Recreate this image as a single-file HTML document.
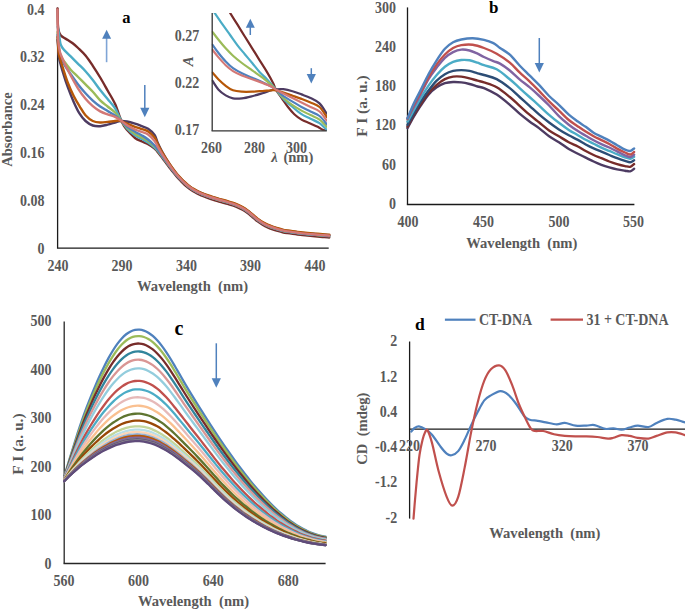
<!DOCTYPE html>
<html><head><meta charset="utf-8"><style>
html,body{margin:0;padding:0;background:#fff;overflow:hidden;width:685px;height:611px;}
svg{display:block;}
text{font-family:"Liberation Serif",serif;font-weight:bold;white-space:pre;}
</style></head><body>
<svg width="685" height="611" viewBox="0 0 685 611">
<rect width="685" height="611" fill="#fff"/>
<line x1="57.6" y1="7.8" x2="57.6" y2="248.1" stroke="#1a1a1a" stroke-width="1.3"/>
<line x1="56.95" y1="248.1" x2="328.7" y2="248.1" stroke="#1a1a1a" stroke-width="1.3"/>
<path d="M57.50,8.50 C57.57,11.25 57.67,21.17 57.90,25.00 C58.13,28.83 58.40,29.75 58.90,31.50 C59.40,33.25 59.92,34.37 60.90,35.50 C61.88,36.63 63.65,37.55 64.80,38.30 C65.95,39.05 66.48,39.17 67.80,40.00 C69.12,40.83 70.98,41.97 72.70,43.30 C74.42,44.63 75.97,45.97 78.10,48.00 C80.23,50.03 83.05,52.53 85.50,55.50 C87.95,58.47 90.35,62.13 92.80,65.80 C95.25,69.47 97.73,73.38 100.20,77.50 C102.67,81.62 105.13,86.12 107.60,90.50 C110.07,94.88 112.90,99.22 115.00,103.80 C117.10,108.38 118.70,114.30 120.20,118.00 C121.70,121.70 122.80,123.95 124.00,126.00 C125.20,128.05 125.57,128.30 127.40,130.30 C129.23,132.30 132.57,136.13 135.00,138.00 C137.43,139.87 139.82,140.47 142.00,141.50 C144.18,142.53 146.00,143.03 148.10,144.20 C150.20,145.37 153.02,147.20 154.60,148.50 C156.18,149.80 156.60,150.77 157.60,151.98 C158.60,153.18 159.60,154.46 160.60,155.74 C161.60,157.03 162.60,158.37 163.60,159.70 C164.60,161.03 165.60,162.38 166.60,163.72 C167.60,165.05 168.60,166.39 169.60,167.71 C170.60,169.02 171.60,170.34 172.60,171.60 C173.60,172.86 174.60,174.10 175.60,175.29 C176.60,176.48 177.60,177.65 178.60,178.75 C179.60,179.85 180.60,180.90 181.60,181.91 C182.60,182.91 183.60,183.87 184.60,184.78 C185.60,185.69 186.60,186.55 187.60,187.36 C188.60,188.17 189.60,188.94 190.60,189.64 C191.60,190.34 192.60,190.96 193.60,191.55 C194.60,192.15 195.60,192.70 196.60,193.22 C197.60,193.74 198.60,194.22 199.60,194.68 C200.60,195.14 201.27,195.44 202.60,195.97 C203.93,196.50 205.93,197.27 207.60,197.87 C209.27,198.46 210.93,199.03 212.60,199.56 C214.27,200.09 215.93,200.58 217.60,201.06 C219.27,201.55 220.93,202.00 222.60,202.47 C224.27,202.94 225.93,203.38 227.60,203.87 C229.27,204.37 230.93,204.87 232.60,205.45 C234.27,206.02 235.93,206.61 237.60,207.33 C239.27,208.05 240.93,208.82 242.60,209.78 C244.27,210.74 245.93,211.83 247.60,213.07 C249.27,214.30 250.93,215.82 252.60,217.20 C254.27,218.58 255.93,220.09 257.60,221.34 C259.27,222.60 260.93,223.72 262.60,224.72 C264.27,225.71 265.93,226.57 267.60,227.32 C269.27,228.08 270.93,228.67 272.60,229.25 C274.27,229.84 275.93,230.36 277.60,230.86 C279.27,231.36 280.93,231.86 282.60,232.25 C284.27,232.63 285.93,232.90 287.60,233.18 C289.27,233.46 290.93,233.70 292.60,233.93 C294.27,234.16 295.93,234.38 297.60,234.58 C299.27,234.78 300.93,234.97 302.60,235.15 C304.27,235.33 305.93,235.50 307.60,235.65 C309.27,235.81 310.93,235.94 312.60,236.09 C314.27,236.23 315.93,236.37 317.60,236.51 C319.27,236.66 320.93,236.79 322.60,236.94 C324.27,237.08 326.48,237.26 327.60,237.36 C328.72,237.45 329.02,237.48 329.30,237.50" fill="none" stroke="#772C2A" stroke-width="2.4" stroke-linejoin="round" stroke-linecap="round" />
<path d="M57.70,27.00 C57.85,27.75 58.32,29.83 58.60,31.50 C58.88,33.17 59.10,35.00 59.40,37.00 C59.70,39.00 59.93,41.75 60.40,43.50 C60.87,45.25 61.47,46.32 62.20,47.50 C62.93,48.68 63.38,49.12 64.80,50.60 C66.22,52.08 68.48,54.20 70.70,56.40 C72.92,58.60 75.63,61.33 78.10,63.80 C80.57,66.27 83.05,68.50 85.50,71.20 C87.95,73.90 90.35,76.85 92.80,80.00 C95.25,83.15 97.73,86.93 100.20,90.10 C102.67,93.27 105.13,95.98 107.60,99.00 C110.07,102.02 112.90,104.95 115.00,108.20 C117.10,111.45 118.20,115.12 120.20,118.50 C122.20,121.88 124.53,125.70 127.00,128.50 C129.47,131.30 132.50,133.55 135.00,135.30 C137.50,137.05 139.82,137.80 142.00,139.00 C144.18,140.20 146.00,141.08 148.10,142.50 C150.20,143.92 153.02,146.11 154.60,147.50 C156.18,148.89 156.60,149.67 157.60,150.84 C158.60,152.01 159.60,153.25 160.60,154.51 C161.60,155.77 162.60,157.10 163.60,158.41 C164.60,159.73 165.60,161.06 166.60,162.39 C167.60,163.71 168.60,165.05 169.60,166.36 C170.60,167.66 171.60,168.97 172.60,170.23 C173.60,171.49 174.60,172.72 175.60,173.91 C176.60,175.10 177.60,176.26 178.60,177.36 C179.60,178.46 180.60,179.51 181.60,180.52 C182.60,181.52 183.60,182.48 184.60,183.39 C185.60,184.29 186.60,185.15 187.60,185.96 C188.60,186.77 189.60,187.54 190.60,188.24 C191.60,188.94 192.60,189.56 193.60,190.15 C194.60,190.75 195.60,191.30 196.60,191.82 C197.60,192.34 198.60,192.83 199.60,193.28 C200.60,193.74 201.27,194.04 202.60,194.57 C203.93,195.10 205.93,195.87 207.60,196.47 C209.27,197.06 210.93,197.63 212.60,198.16 C214.27,198.69 215.93,199.18 217.60,199.66 C219.27,200.15 220.93,200.60 222.60,201.07 C224.27,201.54 225.93,201.98 227.60,202.47 C229.27,202.97 230.93,203.47 232.60,204.05 C234.27,204.62 235.93,205.21 237.60,205.93 C239.27,206.65 240.93,207.42 242.60,208.38 C244.27,209.34 245.93,210.43 247.60,211.67 C249.27,212.90 250.93,214.42 252.60,215.80 C254.27,217.18 255.93,218.69 257.60,219.94 C259.27,221.20 260.93,222.32 262.60,223.32 C264.27,224.31 265.93,225.17 267.60,225.92 C269.27,226.68 270.93,227.27 272.60,227.85 C274.27,228.44 275.93,228.96 277.60,229.46 C279.27,229.96 280.93,230.46 282.60,230.85 C284.27,231.23 285.93,231.50 287.60,231.78 C289.27,232.06 290.93,232.30 292.60,232.53 C294.27,232.76 295.93,232.98 297.60,233.18 C299.27,233.38 300.93,233.57 302.60,233.75 C304.27,233.93 305.93,234.10 307.60,234.25 C309.27,234.41 310.93,234.54 312.60,234.69 C314.27,234.83 315.93,234.97 317.60,235.11 C319.27,235.26 320.93,235.39 322.60,235.54 C324.27,235.68 326.48,235.86 327.60,235.96 C328.72,236.05 329.02,236.08 329.30,236.10" fill="none" stroke="#4BACC6" stroke-width="2.4" stroke-linejoin="round" stroke-linecap="round" />
<path d="M57.60,32.00 C57.73,34.00 57.93,40.17 58.40,44.00 C58.87,47.83 59.33,51.95 60.40,55.00 C61.47,58.05 63.08,59.85 64.80,62.30 C66.52,64.75 68.48,67.25 70.70,69.70 C72.92,72.15 75.63,74.55 78.10,77.00 C80.57,79.45 83.05,81.93 85.50,84.40 C87.95,86.87 90.35,89.13 92.80,91.80 C95.25,94.47 97.73,97.95 100.20,100.40 C102.67,102.85 105.13,104.48 107.60,106.50 C110.07,108.52 112.90,110.33 115.00,112.50 C117.10,114.67 118.20,117.00 120.20,119.50 C122.20,122.00 124.53,125.13 127.00,127.50 C129.47,129.87 132.50,132.03 135.00,133.70 C137.50,135.37 139.82,136.28 142.00,137.50 C144.18,138.72 146.00,139.50 148.10,141.00 C150.20,142.50 153.02,144.97 154.60,146.50 C156.18,148.03 156.60,148.90 157.60,150.15 C158.60,151.41 159.60,152.71 160.60,154.03 C161.60,155.35 162.60,156.71 163.60,158.06 C164.60,159.41 165.60,160.78 166.60,162.13 C167.60,163.47 168.60,164.83 169.60,166.15 C170.60,167.47 171.60,168.79 172.60,170.06 C173.60,171.33 174.60,172.57 175.60,173.76 C176.60,174.96 177.60,176.13 178.60,177.23 C179.60,178.34 180.60,179.39 181.60,180.40 C182.60,181.40 183.60,182.36 184.60,183.27 C185.60,184.18 186.60,185.04 187.60,185.85 C188.60,186.66 189.60,187.44 190.60,188.14 C191.60,188.84 192.60,189.45 193.60,190.05 C194.60,190.65 195.60,191.19 196.60,191.72 C197.60,192.24 198.60,192.72 199.60,193.18 C200.60,193.64 201.27,193.94 202.60,194.47 C203.93,195.00 205.93,195.77 207.60,196.37 C209.27,196.96 210.93,197.53 212.60,198.06 C214.27,198.59 215.93,199.08 217.60,199.56 C219.27,200.05 220.93,200.50 222.60,200.97 C224.27,201.44 225.93,201.88 227.60,202.37 C229.27,202.87 230.93,203.37 232.60,203.95 C234.27,204.52 235.93,205.11 237.60,205.83 C239.27,206.55 240.93,207.32 242.60,208.28 C244.27,209.24 245.93,210.33 247.60,211.57 C249.27,212.80 250.93,214.32 252.60,215.70 C254.27,217.08 255.93,218.59 257.60,219.84 C259.27,221.10 260.93,222.22 262.60,223.22 C264.27,224.21 265.93,225.07 267.60,225.82 C269.27,226.58 270.93,227.17 272.60,227.75 C274.27,228.34 275.93,228.86 277.60,229.36 C279.27,229.86 280.93,230.36 282.60,230.75 C284.27,231.13 285.93,231.40 287.60,231.68 C289.27,231.96 290.93,232.20 292.60,232.43 C294.27,232.66 295.93,232.88 297.60,233.08 C299.27,233.28 300.93,233.47 302.60,233.65 C304.27,233.83 305.93,234.00 307.60,234.15 C309.27,234.31 310.93,234.44 312.60,234.59 C314.27,234.73 315.93,234.87 317.60,235.01 C319.27,235.16 320.93,235.29 322.60,235.44 C324.27,235.58 326.48,235.76 327.60,235.86 C328.72,235.95 329.02,235.98 329.30,236.00" fill="none" stroke="#9BBB59" stroke-width="2.4" stroke-linejoin="round" stroke-linecap="round" />
<path d="M57.60,35.00 C57.75,37.00 58.03,43.42 58.50,47.00 C58.97,50.58 59.35,53.45 60.40,56.50 C61.45,59.55 63.08,62.35 64.80,65.30 C66.52,68.25 68.48,71.00 70.70,74.20 C72.92,77.40 75.63,81.32 78.10,84.50 C80.57,87.68 83.05,90.62 85.50,93.30 C87.95,95.98 90.35,98.40 92.80,100.60 C95.25,102.80 97.73,104.77 100.20,106.50 C102.67,108.23 105.13,109.50 107.60,111.00 C110.07,112.50 112.90,114.03 115.00,115.50 C117.10,116.97 118.20,117.97 120.20,119.80 C122.20,121.63 124.53,124.52 127.00,126.50 C129.47,128.48 132.50,130.20 135.00,131.70 C137.50,133.20 139.82,134.20 142.00,135.50 C144.18,136.80 146.00,137.83 148.10,139.50 C150.20,141.17 153.02,143.84 154.60,145.50 C156.18,147.16 156.60,148.12 157.60,149.47 C158.60,150.81 159.60,152.17 160.60,153.55 C161.60,154.92 162.60,156.33 163.60,157.72 C164.60,159.10 165.60,160.49 166.60,161.86 C167.60,163.24 168.60,164.61 169.60,165.94 C170.60,167.28 171.60,168.61 172.60,169.89 C173.60,171.17 174.60,172.42 175.60,173.62 C176.60,174.82 177.60,175.99 178.60,177.10 C179.60,178.21 180.60,179.27 181.60,180.28 C182.60,181.29 183.60,182.25 184.60,183.16 C185.60,184.07 186.60,184.93 187.60,185.74 C188.60,186.55 189.60,187.33 190.60,188.03 C191.60,188.73 192.60,189.35 193.60,189.95 C194.60,190.54 195.60,191.09 196.60,191.61 C197.60,192.14 198.60,192.62 199.60,193.08 C200.60,193.54 201.27,193.84 202.60,194.37 C203.93,194.90 205.93,195.67 207.60,196.27 C209.27,196.86 210.93,197.43 212.60,197.96 C214.27,198.49 215.93,198.98 217.60,199.46 C219.27,199.95 220.93,200.40 222.60,200.87 C224.27,201.34 225.93,201.78 227.60,202.27 C229.27,202.77 230.93,203.27 232.60,203.85 C234.27,204.42 235.93,205.01 237.60,205.73 C239.27,206.45 240.93,207.22 242.60,208.18 C244.27,209.14 245.93,210.23 247.60,211.47 C249.27,212.70 250.93,214.22 252.60,215.60 C254.27,216.98 255.93,218.49 257.60,219.74 C259.27,221.00 260.93,222.12 262.60,223.12 C264.27,224.11 265.93,224.97 267.60,225.72 C269.27,226.48 270.93,227.07 272.60,227.65 C274.27,228.24 275.93,228.76 277.60,229.26 C279.27,229.76 280.93,230.26 282.60,230.65 C284.27,231.03 285.93,231.30 287.60,231.58 C289.27,231.86 290.93,232.10 292.60,232.33 C294.27,232.56 295.93,232.78 297.60,232.98 C299.27,233.18 300.93,233.37 302.60,233.55 C304.27,233.73 305.93,233.90 307.60,234.05 C309.27,234.21 310.93,234.34 312.60,234.49 C314.27,234.63 315.93,234.77 317.60,234.91 C319.27,235.06 320.93,235.19 322.60,235.34 C324.27,235.48 326.48,235.66 327.60,235.76 C328.72,235.85 329.02,235.88 329.30,235.90" fill="none" stroke="#4F81BD" stroke-width="2.4" stroke-linejoin="round" stroke-linecap="round" />
<path d="M57.60,40.00 C57.70,41.33 57.97,45.05 58.20,48.00 C58.43,50.95 58.13,53.38 59.00,57.70 C59.87,62.02 61.93,68.98 63.40,73.90 C64.87,78.82 66.08,82.53 67.80,87.20 C69.52,91.87 71.73,97.48 73.70,101.90 C75.67,106.32 77.63,110.52 79.60,113.70 C81.57,116.88 83.30,119.03 85.50,121.00 C87.70,122.97 90.35,124.63 92.80,125.50 C95.25,126.37 97.73,126.33 100.20,126.20 C102.67,126.07 105.13,125.32 107.60,124.70 C110.07,124.08 112.90,123.12 115.00,122.50 C117.10,121.88 118.20,121.17 120.20,121.00 C122.20,120.83 124.53,121.07 127.00,121.50 C129.47,121.93 132.67,122.88 135.00,123.60 C137.33,124.32 138.82,124.93 141.00,125.80 C143.18,126.67 145.83,127.27 148.10,128.80 C150.37,130.33 153.02,132.74 154.60,135.00 C156.18,137.26 156.60,140.10 157.60,142.38 C158.60,144.66 159.60,146.70 160.60,148.69 C161.60,150.68 162.60,152.52 163.60,154.31 C164.60,156.09 165.60,157.77 166.60,159.40 C167.60,161.03 168.60,162.59 169.60,164.09 C170.60,165.60 171.60,167.05 172.60,168.44 C173.60,169.83 174.60,171.16 175.60,172.43 C176.60,173.70 177.60,174.93 178.60,176.09 C179.60,177.24 180.60,178.33 181.60,179.37 C182.60,180.41 183.60,181.40 184.60,182.33 C185.60,183.26 186.60,184.13 187.60,184.95 C188.60,185.78 189.60,186.57 190.60,187.28 C191.60,187.98 192.60,188.61 193.60,189.21 C194.60,189.81 195.60,190.36 196.60,190.89 C197.60,191.42 198.60,191.90 199.60,192.37 C200.60,192.83 201.27,193.12 202.60,193.66 C203.93,194.19 205.93,194.96 207.60,195.56 C209.27,196.16 210.93,196.72 212.60,197.26 C214.27,197.79 215.93,198.27 217.60,198.76 C219.27,199.25 220.93,199.70 222.60,200.17 C224.27,200.64 225.93,201.08 227.60,201.57 C229.27,202.07 230.93,202.57 232.60,203.15 C234.27,203.72 235.93,204.31 237.60,205.03 C239.27,205.75 240.93,206.52 242.60,207.48 C244.27,208.44 245.93,209.53 247.60,210.77 C249.27,212.00 250.93,213.52 252.60,214.90 C254.27,216.28 255.93,217.79 257.60,219.04 C259.27,220.30 260.93,221.42 262.60,222.42 C264.27,223.41 265.93,224.27 267.60,225.02 C269.27,225.78 270.93,226.37 272.60,226.95 C274.27,227.54 275.93,228.06 277.60,228.56 C279.27,229.06 280.93,229.56 282.60,229.95 C284.27,230.33 285.93,230.60 287.60,230.88 C289.27,231.16 290.93,231.40 292.60,231.63 C294.27,231.86 295.93,232.08 297.60,232.28 C299.27,232.48 300.93,232.67 302.60,232.85 C304.27,233.03 305.93,233.20 307.60,233.35 C309.27,233.51 310.93,233.64 312.60,233.79 C314.27,233.93 315.93,234.07 317.60,234.21 C319.27,234.36 320.93,234.49 322.60,234.64 C324.27,234.78 326.48,234.96 327.60,235.06 C328.72,235.15 329.02,235.18 329.30,235.20" fill="none" stroke="#4D3B62" stroke-width="2.4" stroke-linejoin="round" stroke-linecap="round" />
<path d="M57.60,37.00 C57.70,38.50 57.97,43.05 58.20,46.00 C58.43,48.95 58.13,50.78 59.00,54.70 C59.87,58.62 61.93,64.83 63.40,69.50 C64.87,74.17 66.08,78.28 67.80,82.70 C69.52,87.12 71.73,92.07 73.70,96.00 C75.67,99.93 77.63,103.10 79.60,106.30 C81.57,109.50 83.30,112.75 85.50,115.20 C87.70,117.65 90.35,119.78 92.80,121.00 C95.25,122.22 97.73,122.35 100.20,122.50 C102.67,122.65 105.13,122.15 107.60,121.90 C110.07,121.65 112.90,121.18 115.00,121.00 C117.10,120.82 118.20,120.38 120.20,120.80 C122.20,121.22 124.53,122.50 127.00,123.50 C129.47,124.50 132.67,125.92 135.00,126.80 C137.33,127.68 138.82,128.02 141.00,128.80 C143.18,129.58 145.83,130.05 148.10,131.50 C150.37,132.95 153.02,135.44 154.60,137.50 C156.18,139.56 156.60,141.87 157.60,143.87 C158.60,145.87 159.60,147.71 160.60,149.52 C161.60,151.33 162.60,153.04 163.60,154.71 C164.60,156.37 165.60,157.97 166.60,159.52 C167.60,161.08 168.60,162.58 169.60,164.03 C170.60,165.49 171.60,166.91 172.60,168.26 C173.60,169.62 174.60,170.92 175.60,172.17 C176.60,173.43 177.60,174.64 178.60,175.78 C179.60,176.92 180.60,178.00 181.60,179.03 C182.60,180.06 183.60,181.04 184.60,181.97 C185.60,182.89 186.60,183.76 187.60,184.58 C188.60,185.40 189.60,186.19 190.60,186.89 C191.60,187.60 192.60,188.22 193.60,188.82 C194.60,189.42 195.60,189.97 196.60,190.50 C197.60,191.02 198.60,191.51 199.60,191.97 C200.60,192.43 201.27,192.73 202.60,193.26 C203.93,193.79 205.93,194.56 207.60,195.16 C209.27,195.76 210.93,196.32 212.60,196.86 C214.27,197.39 215.93,197.87 217.60,198.36 C219.27,198.85 220.93,199.30 222.60,199.77 C224.27,200.24 225.93,200.68 227.60,201.17 C229.27,201.67 230.93,202.17 232.60,202.75 C234.27,203.32 235.93,203.91 237.60,204.63 C239.27,205.35 240.93,206.12 242.60,207.08 C244.27,208.04 245.93,209.13 247.60,210.37 C249.27,211.60 250.93,213.12 252.60,214.50 C254.27,215.88 255.93,217.39 257.60,218.64 C259.27,219.90 260.93,221.02 262.60,222.02 C264.27,223.01 265.93,223.87 267.60,224.62 C269.27,225.38 270.93,225.97 272.60,226.55 C274.27,227.14 275.93,227.66 277.60,228.16 C279.27,228.66 280.93,229.16 282.60,229.55 C284.27,229.93 285.93,230.20 287.60,230.48 C289.27,230.76 290.93,231.00 292.60,231.23 C294.27,231.46 295.93,231.68 297.60,231.88 C299.27,232.08 300.93,232.27 302.60,232.45 C304.27,232.63 305.93,232.80 307.60,232.95 C309.27,233.11 310.93,233.24 312.60,233.39 C314.27,233.53 315.93,233.67 317.60,233.81 C319.27,233.96 320.93,234.09 322.60,234.24 C324.27,234.38 326.48,234.56 327.60,234.66 C328.72,234.75 329.02,234.78 329.30,234.80" fill="none" stroke="#B65708" stroke-width="2.4" stroke-linejoin="round" stroke-linecap="round" />
<path d="M57.50,9.50 C57.53,12.08 57.58,19.92 57.70,25.00 C57.82,30.08 57.95,36.17 58.20,40.00 C58.45,43.83 58.83,45.75 59.20,48.00 C59.57,50.25 59.47,50.87 60.40,53.50 C61.33,56.13 63.08,60.13 64.80,63.80 C66.52,67.47 68.48,71.37 70.70,75.50 C72.92,79.63 75.63,84.72 78.10,88.60 C80.57,92.48 83.05,95.87 85.50,98.80 C87.95,101.73 90.35,104.10 92.80,106.20 C95.25,108.30 97.73,110.03 100.20,111.40 C102.67,112.77 105.13,113.50 107.60,114.40 C110.07,115.30 112.90,115.87 115.00,116.80 C117.10,117.73 118.20,118.60 120.20,120.00 C122.20,121.40 124.53,123.62 127.00,125.20 C129.47,126.78 132.50,128.37 135.00,129.50 C137.50,130.63 139.82,131.17 142.00,132.00 C144.18,132.83 146.00,133.00 148.10,134.50 C150.20,136.00 153.02,139.01 154.60,141.00 C156.18,142.99 156.60,144.71 157.60,146.46 C158.60,148.22 159.60,149.88 160.60,151.52 C161.60,153.17 162.60,154.77 163.60,156.33 C164.60,157.89 165.60,159.40 166.60,160.89 C167.60,162.37 168.60,163.83 169.60,165.24 C170.60,166.65 171.60,168.04 172.60,169.36 C173.60,170.69 174.60,171.97 175.60,173.20 C176.60,174.44 177.60,175.63 178.60,176.76 C179.60,177.89 180.60,178.96 181.60,179.99 C182.60,181.01 183.60,181.98 184.60,182.90 C185.60,183.82 186.60,184.69 187.60,185.50 C188.60,186.32 189.60,187.10 190.60,187.81 C191.60,188.51 192.60,189.13 193.60,189.73 C194.60,190.33 195.60,190.88 196.60,191.40 C197.60,191.93 198.60,192.41 199.60,192.87 C200.60,193.33 201.27,193.63 202.60,194.16 C203.93,194.69 205.93,195.46 207.60,196.06 C209.27,196.66 210.93,197.22 212.60,197.76 C214.27,198.29 215.93,198.77 217.60,199.26 C219.27,199.75 220.93,200.20 222.60,200.67 C224.27,201.14 225.93,201.58 227.60,202.07 C229.27,202.57 230.93,203.07 232.60,203.65 C234.27,204.22 235.93,204.81 237.60,205.53 C239.27,206.25 240.93,207.02 242.60,207.98 C244.27,208.94 245.93,210.03 247.60,211.27 C249.27,212.50 250.93,214.02 252.60,215.40 C254.27,216.78 255.93,218.29 257.60,219.54 C259.27,220.80 260.93,221.92 262.60,222.92 C264.27,223.91 265.93,224.77 267.60,225.52 C269.27,226.28 270.93,226.87 272.60,227.45 C274.27,228.04 275.93,228.56 277.60,229.06 C279.27,229.56 280.93,230.06 282.60,230.45 C284.27,230.83 285.93,231.10 287.60,231.38 C289.27,231.66 290.93,231.90 292.60,232.13 C294.27,232.36 295.93,232.58 297.60,232.78 C299.27,232.98 300.93,233.17 302.60,233.35 C304.27,233.53 305.93,233.70 307.60,233.85 C309.27,234.01 310.93,234.14 312.60,234.29 C314.27,234.43 315.93,234.57 317.60,234.71 C319.27,234.86 320.93,234.99 322.60,235.14 C324.27,235.28 326.48,235.46 327.60,235.56 C328.72,235.65 329.02,235.68 329.30,235.70" fill="none" stroke="#D37876" stroke-width="2.4" stroke-linejoin="round" stroke-linecap="round" />
<text transform="translate(44.60,14.68) scale(1,1.2)" font-size="14.0" text-anchor="end" fill="#595959">0.4</text>
<text transform="translate(44.60,62.48) scale(1,1.2)" font-size="14.0" text-anchor="end" fill="#595959">0.32</text>
<text transform="translate(44.60,110.28) scale(1,1.2)" font-size="14.0" text-anchor="end" fill="#595959">0.24</text>
<text transform="translate(44.60,158.08) scale(1,1.2)" font-size="14.0" text-anchor="end" fill="#595959">0.16</text>
<text transform="translate(44.60,205.88) scale(1,1.2)" font-size="14.0" text-anchor="end" fill="#595959">0.08</text>
<text transform="translate(44.60,253.68) scale(1,1.2)" font-size="14.0" text-anchor="end" fill="#595959">0</text>
<text transform="translate(58.00,271.38) scale(1,1.2)" font-size="14.0" text-anchor="middle" fill="#595959">240</text>
<text transform="translate(122.00,271.38) scale(1,1.2)" font-size="14.0" text-anchor="middle" fill="#595959">290</text>
<text transform="translate(186.50,271.38) scale(1,1.2)" font-size="14.0" text-anchor="middle" fill="#595959">340</text>
<text transform="translate(250.50,271.38) scale(1,1.2)" font-size="14.0" text-anchor="middle" fill="#595959">390</text>
<text transform="translate(315.00,271.38) scale(1,1.2)" font-size="14.0" text-anchor="middle" fill="#595959">440</text>
<text x="192.6" y="290.5" font-size="14.6" text-anchor="middle" fill="#595959" xml:space="preserve">Wavelength  (nm)</text>
<text x="12.2" y="129.5" font-size="14.6" text-anchor="middle" fill="#595959" transform="rotate(-90 12.2 129.5)" dy="0">Absorbance</text>
<text x="122.2" y="23.4" font-size="16.5" text-anchor="start" fill="#000" >a</text>
<line x1="106.6" y1="37.8" x2="106.6" y2="62.2" stroke="#7FA5D6" stroke-width="1.6"/>
<path d="M102.1,38.8 L106.6,29.8 L111.1,38.8 Z" fill="#4F81BD"/>
<line x1="144.8" y1="85" x2="144.8" y2="108.8" stroke="#4F81BD" stroke-width="1.5"/>
<path d="M140.20000000000002,107.8 L144.8,117.3 L149.4,107.8 Z" fill="#4F81BD"/>
<defs><clipPath id="insclip"><rect x="211.7" y="12.9" width="115.3" height="117.9"/></clipPath></defs>
<g clip-path="url(#insclip)">
<path d="M230.10,12.90 C231.33,14.87 235.05,20.77 237.50,24.70 C239.95,28.63 242.35,32.57 244.80,36.50 C247.25,40.43 249.75,44.37 252.20,48.30 C254.65,52.23 257.05,56.17 259.50,60.10 C261.95,64.03 264.62,68.05 266.90,71.90 C269.18,75.75 271.70,80.25 273.20,83.20 C274.70,86.15 274.48,87.13 275.90,89.60 C277.32,92.07 279.68,95.10 281.70,98.00 C283.72,100.90 285.90,104.30 288.00,107.00 C290.10,109.70 292.05,112.10 294.30,114.20 C296.55,116.30 298.95,118.10 301.50,119.60 C304.05,121.10 306.90,122.00 309.60,123.20 C312.30,124.40 315.60,125.73 317.70,126.80 C319.80,127.87 320.85,128.97 322.20,129.60 C323.55,130.23 325.20,130.43 325.80,130.60" fill="none" stroke="#772C2A" stroke-width="2.2" stroke-linejoin="round" stroke-linecap="round" />
<path d="M213.20,11.50 C213.43,11.73 213.02,10.70 214.60,12.90 C216.18,15.10 220.12,21.02 222.70,24.70 C225.28,28.38 227.63,31.57 230.10,35.00 C232.57,38.43 235.05,42.10 237.50,45.30 C239.95,48.50 242.35,51.25 244.80,54.20 C247.25,57.15 249.75,60.05 252.20,63.00 C254.65,65.95 257.05,69.20 259.50,71.90 C261.95,74.60 264.62,76.82 266.90,79.20 C269.18,81.58 271.70,84.47 273.20,86.20 C274.70,87.93 274.18,87.48 275.90,89.60 C277.62,91.72 280.73,96.00 283.50,98.90 C286.27,101.80 289.50,104.45 292.50,107.00 C295.50,109.55 298.50,112.25 301.50,114.20 C304.50,116.15 307.50,117.20 310.50,118.70 C313.50,120.20 316.80,121.35 319.50,123.20 C322.20,125.05 325.50,128.70 326.70,129.80" fill="none" stroke="#4BACC6" stroke-width="2.2" stroke-linejoin="round" stroke-linecap="round" />
<path d="M212.40,31.80 C213.38,33.08 216.08,36.75 218.30,39.50 C220.52,42.25 223.25,45.60 225.70,48.30 C228.15,51.00 230.30,53.25 233.00,55.70 C235.70,58.15 238.70,60.55 241.90,63.00 C245.10,65.45 248.77,67.95 252.20,70.40 C255.63,72.85 259.32,75.25 262.50,77.70 C265.68,80.15 269.07,83.12 271.30,85.10 C273.53,87.08 273.87,87.45 275.90,89.60 C277.93,91.75 280.73,95.40 283.50,98.00 C286.27,100.60 289.50,103.10 292.50,105.20 C295.50,107.30 298.50,108.95 301.50,110.60 C304.50,112.25 307.50,113.60 310.50,115.10 C313.50,116.60 316.80,117.65 319.50,119.60 C322.20,121.55 325.50,125.60 326.70,126.80" fill="none" stroke="#9BBB59" stroke-width="2.2" stroke-linejoin="round" stroke-linecap="round" />
<path d="M212.40,44.60 C213.38,45.95 216.08,49.88 218.30,52.70 C220.52,55.52 223.25,58.92 225.70,61.50 C228.15,64.08 230.30,66.23 233.00,68.20 C235.70,70.17 238.70,71.72 241.90,73.30 C245.10,74.88 248.77,76.22 252.20,77.70 C255.63,79.18 259.32,80.72 262.50,82.20 C265.68,83.68 269.07,85.37 271.30,86.60 C273.53,87.83 273.87,88.00 275.90,89.60 C277.93,91.20 280.73,94.20 283.50,96.20 C286.27,98.20 289.50,99.80 292.50,101.60 C295.50,103.40 298.50,105.35 301.50,107.00 C304.50,108.65 307.50,110.00 310.50,111.50 C313.50,113.00 316.80,113.90 319.50,116.00 C322.20,118.10 325.50,122.75 326.70,124.10" fill="none" stroke="#4F81BD" stroke-width="2.2" stroke-linejoin="round" stroke-linecap="round" />
<path d="M212.40,80.70 C213.38,82.17 216.08,87.05 218.30,89.50 C220.52,91.95 223.25,93.92 225.70,95.40 C228.15,96.88 230.30,97.90 233.00,98.40 C235.70,98.90 238.70,98.77 241.90,98.40 C245.10,98.03 248.77,97.07 252.20,96.20 C255.63,95.33 259.32,94.18 262.50,93.20 C265.68,92.22 269.07,90.95 271.30,90.30 C273.53,89.65 273.87,89.48 275.90,89.30 C277.93,89.12 280.73,88.88 283.50,89.20 C286.27,89.52 289.50,90.33 292.50,91.20 C295.50,92.07 298.50,93.27 301.50,94.40 C304.50,95.53 307.50,96.50 310.50,98.00 C313.50,99.50 316.80,100.78 319.50,103.40 C322.20,106.02 325.50,111.98 326.70,113.70" fill="none" stroke="#4D3B62" stroke-width="2.2" stroke-linejoin="round" stroke-linecap="round" />
<path d="M212.40,72.60 C213.38,73.70 216.08,77.00 218.30,79.20 C220.52,81.40 223.25,83.95 225.70,85.80 C228.15,87.65 230.30,89.32 233.00,90.30 C235.70,91.28 238.70,91.47 241.90,91.70 C245.10,91.93 248.77,91.82 252.20,91.70 C255.63,91.58 259.32,91.23 262.50,91.00 C265.68,90.77 269.07,90.42 271.30,90.30 C273.53,90.18 273.87,89.92 275.90,90.30 C277.93,90.68 280.73,91.70 283.50,92.60 C286.27,93.50 289.50,94.65 292.50,95.70 C295.50,96.75 298.50,97.77 301.50,98.90 C304.50,100.03 307.50,101.15 310.50,102.50 C313.50,103.85 316.80,104.60 319.50,107.00 C322.20,109.40 325.50,115.25 326.70,116.90" fill="none" stroke="#B65708" stroke-width="2.2" stroke-linejoin="round" stroke-linecap="round" />
<path d="M212.40,49.80 C213.38,51.02 216.08,54.53 218.30,57.10 C220.52,59.67 223.25,62.87 225.70,65.20 C228.15,67.53 230.30,69.38 233.00,71.10 C235.70,72.82 238.70,74.15 241.90,75.50 C245.10,76.85 248.77,77.97 252.20,79.20 C255.63,80.43 259.32,81.67 262.50,82.90 C265.68,84.13 269.07,85.48 271.30,86.60 C273.53,87.72 273.87,88.45 275.90,89.60 C277.93,90.75 280.73,92.10 283.50,93.50 C286.27,94.90 289.50,96.50 292.50,98.00 C295.50,99.50 298.50,101.00 301.50,102.50 C304.50,104.00 307.50,105.50 310.50,107.00 C313.50,108.50 316.80,109.25 319.50,111.50 C322.20,113.75 325.50,119.00 326.70,120.50" fill="none" stroke="#D37876" stroke-width="2.2" stroke-linejoin="round" stroke-linecap="round" />
</g>
<line x1="212.2" y1="12.9" x2="212.2" y2="130.8" stroke="#333" stroke-width="1.3"/>
<line x1="211.55" y1="130.8" x2="326.8" y2="130.8" stroke="#333" stroke-width="1.3"/>
<text transform="translate(199.30,40.68) scale(1,1.2)" font-size="14.0" text-anchor="end" fill="#595959">0.27</text>
<text transform="translate(199.30,87.98) scale(1,1.2)" font-size="14.0" text-anchor="end" fill="#595959">0.22</text>
<text transform="translate(199.30,135.28) scale(1,1.2)" font-size="14.0" text-anchor="end" fill="#595959">0.17</text>
<text transform="translate(211.60,152.98) scale(1,1.2)" font-size="14.0" text-anchor="middle" fill="#595959">260</text>
<text transform="translate(254.50,152.98) scale(1,1.2)" font-size="14.0" text-anchor="middle" fill="#595959">280</text>
<text transform="translate(296.50,152.98) scale(1,1.2)" font-size="14.0" text-anchor="middle" fill="#595959">300</text>
<text x="193" y="61.2" font-size="15" text-anchor="middle" fill="#595959" font-style="italic" transform="rotate(-90 193 61.2)">A</text>
<text x="271.2" y="161.5" font-size="14.6" text-anchor="start" fill="#595959" font-style="italic">λ</text>
<text x="283.4" y="161.5" font-size="14.6" text-anchor="start" fill="#595959" >(nm)</text>
<line x1="250.3" y1="26.8" x2="250.3" y2="35" stroke="#4F81BD" stroke-width="1.5"/>
<path d="M245.8,27.8 L250.3,18.8 L254.8,27.8 Z" fill="#4F81BD"/>
<line x1="311.3" y1="68.2" x2="311.3" y2="75.0" stroke="#4F81BD" stroke-width="1.5"/>
<path d="M306.7,74.0 L311.3,83.5 L315.90000000000003,74.0 Z" fill="#4F81BD"/>
<line x1="407.5" y1="7.4" x2="407.5" y2="204.5" stroke="#1a1a1a" stroke-width="1.3"/>
<line x1="406.85" y1="204.5" x2="634.4" y2="204.5" stroke="#1a1a1a" stroke-width="1.3"/>
<path d="M407.50,128.20 C408.55,126.28 411.65,120.38 413.80,116.70 C415.95,113.02 417.95,109.78 420.40,106.10 C422.85,102.42 425.78,97.73 428.50,94.60 C431.22,91.47 433.97,89.20 436.70,87.30 C439.43,85.40 442.17,84.08 444.90,83.20 C447.63,82.32 450.37,82.13 453.10,82.00 C455.83,81.87 458.57,82.07 461.30,82.40 C464.03,82.73 466.78,83.32 469.50,84.00 C472.22,84.68 475.18,85.82 477.60,86.50 C480.02,87.18 480.82,86.75 484.00,88.10 C487.18,89.45 492.40,91.82 496.70,94.60 C501.00,97.38 505.98,101.62 509.80,104.80 C513.62,107.98 516.32,110.92 519.60,113.70 C522.88,116.48 526.22,119.05 529.50,121.50 C532.78,123.95 536.03,125.93 539.30,128.40 C542.57,130.87 545.83,134.00 549.10,136.30 C552.37,138.60 555.62,140.08 558.90,142.20 C562.18,144.32 565.63,147.08 568.80,149.00 C571.97,150.92 575.08,152.27 577.90,153.70 C580.72,155.13 583.08,156.30 585.70,157.60 C588.32,158.90 590.98,160.30 593.60,161.50 C596.22,162.70 598.78,163.82 601.40,164.80 C604.02,165.78 606.68,166.63 609.30,167.40 C611.92,168.17 614.48,168.85 617.10,169.40 C619.72,169.95 622.82,170.38 625.00,170.70 C627.18,171.02 628.68,171.63 630.20,171.30 C631.72,170.97 633.45,169.13 634.10,168.70" fill="none" stroke="#4D3B62" stroke-width="2.4" stroke-linejoin="round" stroke-linecap="round" />
<path d="M407.50,126.60 C408.55,124.68 411.65,118.78 413.80,115.10 C415.95,111.42 417.95,108.18 420.40,104.50 C422.85,100.82 425.78,96.28 428.50,93.00 C431.22,89.72 433.97,87.12 436.70,84.80 C439.43,82.48 442.17,80.47 444.90,79.10 C447.63,77.73 450.37,77.02 453.10,76.60 C455.83,76.18 458.57,76.32 461.30,76.60 C464.03,76.88 466.78,77.62 469.50,78.30 C472.22,78.98 475.18,80.02 477.60,80.70 C480.02,81.38 480.82,81.30 484.00,82.40 C487.18,83.50 492.40,84.87 496.70,87.30 C501.00,89.73 505.98,93.92 509.80,97.00 C513.62,100.08 516.32,102.85 519.60,105.80 C522.88,108.75 526.22,111.92 529.50,114.70 C532.78,117.48 536.03,119.88 539.30,122.50 C542.57,125.12 545.83,128.10 549.10,130.40 C552.37,132.70 555.62,134.33 558.90,136.30 C562.18,138.27 565.63,140.50 568.80,142.20 C571.97,143.90 575.08,145.03 577.90,146.50 C580.72,147.97 583.08,149.58 585.70,151.00 C588.32,152.42 590.98,153.80 593.60,155.00 C596.22,156.20 598.78,157.12 601.40,158.20 C604.02,159.28 606.68,160.52 609.30,161.50 C611.92,162.48 614.48,163.33 617.10,164.10 C619.72,164.87 622.82,165.65 625.00,166.10 C627.18,166.55 628.68,167.13 630.20,166.80 C631.72,166.47 633.45,164.55 634.10,164.10" fill="none" stroke="#772C2A" stroke-width="2.4" stroke-linejoin="round" stroke-linecap="round" />
<path d="M407.50,124.90 C408.55,123.00 411.65,117.32 413.80,113.50 C415.95,109.68 417.95,105.82 420.40,102.00 C422.85,98.18 425.78,94.15 428.50,90.60 C431.22,87.05 433.97,83.43 436.70,80.70 C439.43,77.97 442.17,75.83 444.90,74.20 C447.63,72.57 450.37,71.58 453.10,70.90 C455.83,70.22 458.57,70.10 461.30,70.10 C464.03,70.10 466.78,70.35 469.50,70.90 C472.22,71.45 475.18,72.72 477.60,73.40 C480.02,74.08 480.82,74.05 484.00,75.00 C487.18,75.95 492.40,76.92 496.70,79.10 C501.00,81.28 505.98,85.12 509.80,88.10 C513.62,91.08 516.32,94.05 519.60,97.00 C522.88,99.95 526.22,102.85 529.50,105.80 C532.78,108.75 536.03,111.92 539.30,114.70 C542.57,117.48 545.83,120.05 549.10,122.50 C552.37,124.95 555.62,127.27 558.90,129.40 C562.18,131.53 565.63,133.55 568.80,135.30 C571.97,137.05 575.08,138.37 577.90,139.90 C580.72,141.43 583.08,143.08 585.70,144.50 C588.32,145.92 590.98,147.20 593.60,148.40 C596.22,149.60 598.78,150.60 601.40,151.70 C604.02,152.80 606.68,153.92 609.30,155.00 C611.92,156.08 614.48,157.22 617.10,158.20 C619.72,159.18 622.82,160.23 625.00,160.90 C627.18,161.57 628.68,162.32 630.20,162.20 C631.72,162.08 633.45,160.53 634.10,160.20" fill="none" stroke="#2C4D75" stroke-width="2.4" stroke-linejoin="round" stroke-linecap="round" />
<path d="M407.50,121.60 C408.55,119.70 411.65,114.02 413.80,110.20 C415.95,106.38 417.95,102.80 420.40,98.70 C422.85,94.60 425.78,89.55 428.50,85.60 C431.22,81.65 433.97,78.13 436.70,75.00 C439.43,71.87 442.17,68.98 444.90,66.80 C447.63,64.62 450.37,63.03 453.10,61.90 C455.83,60.77 458.57,60.27 461.30,60.00 C464.03,59.73 466.78,59.85 469.50,60.30 C472.22,60.75 475.18,61.88 477.60,62.70 C480.02,63.52 480.82,64.10 484.00,65.20 C487.18,66.30 492.40,66.95 496.70,69.30 C501.00,71.65 505.98,76.17 509.80,79.30 C513.62,82.43 516.32,85.15 519.60,88.10 C522.88,91.05 526.22,94.05 529.50,97.00 C532.78,99.95 536.03,102.83 539.30,105.80 C542.57,108.77 545.83,112.01 549.10,114.85 C552.37,117.69 555.62,120.31 558.90,122.81 C562.18,125.31 565.63,127.81 568.80,129.88 C571.97,131.94 575.08,133.55 577.90,135.20 C580.72,136.85 583.08,138.38 585.70,139.80 C588.32,141.22 590.98,142.40 593.60,143.70 C596.22,145.00 598.78,146.40 601.40,147.60 C604.02,148.80 606.68,149.80 609.30,150.90 C611.92,152.00 614.48,153.12 617.10,154.20 C619.72,155.28 622.82,156.65 625.00,157.40 C627.18,158.15 628.68,158.80 630.20,158.70 C631.72,158.60 633.45,157.12 634.10,156.80" fill="none" stroke="#4BACC6" stroke-width="2.4" stroke-linejoin="round" stroke-linecap="round" />
<path d="M407.50,118.20 C408.55,116.32 411.65,110.83 413.80,106.90 C415.95,102.97 417.95,99.23 420.40,94.60 C422.85,89.97 425.78,83.60 428.50,79.10 C431.22,74.60 433.97,71.15 436.70,67.60 C439.43,64.05 442.17,60.38 444.90,57.80 C447.63,55.22 450.37,53.47 453.10,52.10 C455.83,50.73 458.57,49.87 461.30,49.60 C464.03,49.33 466.78,49.82 469.50,50.50 C472.22,51.18 475.18,52.62 477.60,53.70 C480.02,54.78 481.37,55.77 484.00,57.00 C486.63,58.23 490.73,60.00 493.40,61.10 C496.07,62.20 497.27,62.03 500.00,63.60 C502.73,65.17 506.53,67.88 509.80,70.50 C513.07,73.12 516.32,76.52 519.60,79.30 C522.88,82.08 526.22,84.42 529.50,87.20 C532.78,89.98 536.03,92.95 539.30,96.00 C542.57,99.05 545.83,102.14 549.10,105.50 C552.37,108.86 555.62,112.95 558.90,116.15 C562.18,119.35 565.63,122.22 568.80,124.71 C571.97,127.20 575.08,129.27 577.90,131.10 C580.72,132.93 583.08,134.17 585.70,135.70 C588.32,137.23 590.98,138.88 593.60,140.30 C596.22,141.72 598.78,143.00 601.40,144.20 C604.02,145.40 606.68,146.30 609.30,147.50 C611.92,148.70 614.48,150.10 617.10,151.40 C619.72,152.70 622.82,154.37 625.00,155.30 C627.18,156.23 628.68,157.10 630.20,157.00 C631.72,156.90 633.45,155.08 634.10,154.70" fill="none" stroke="#8064A2" stroke-width="2.4" stroke-linejoin="round" stroke-linecap="round" />
<path d="M407.50,119.20 C408.55,116.88 411.65,109.67 413.80,105.30 C415.95,100.93 417.95,97.63 420.40,93.00 C422.85,88.37 425.78,82.27 428.50,77.50 C431.22,72.73 433.97,68.23 436.70,64.40 C439.43,60.57 442.17,57.23 444.90,54.50 C447.63,51.77 450.37,49.57 453.10,48.00 C455.83,46.43 458.03,45.65 461.30,45.10 C464.57,44.55 468.92,44.22 472.70,44.70 C476.48,45.18 480.00,46.50 484.00,48.00 C488.00,49.50 492.40,51.27 496.70,53.70 C501.00,56.13 505.98,59.48 509.80,62.60 C513.62,65.72 516.32,69.28 519.60,72.40 C522.88,75.52 526.22,78.18 529.50,81.30 C532.78,84.42 536.03,87.76 539.30,91.10 C542.57,94.44 545.83,98.10 549.10,101.36 C552.37,104.62 555.62,107.53 558.90,110.64 C562.18,113.75 565.63,117.41 568.80,120.04 C571.97,122.67 575.08,124.47 577.90,126.40 C580.72,128.33 583.08,129.97 585.70,131.60 C588.32,133.23 590.98,134.78 593.60,136.20 C596.22,137.62 598.78,138.80 601.40,140.10 C604.02,141.40 606.68,142.58 609.30,144.00 C611.92,145.42 614.48,147.18 617.10,148.60 C619.72,150.02 622.82,151.52 625.00,152.50 C627.18,153.48 628.68,154.60 630.20,154.50 C631.72,154.40 633.45,152.33 634.10,151.90" fill="none" stroke="#C0504D" stroke-width="2.4" stroke-linejoin="round" stroke-linecap="round" />
<path d="M407.50,118.50 C408.55,116.02 411.65,108.25 413.80,103.60 C415.95,98.95 417.95,95.50 420.40,90.60 C422.85,85.70 425.78,79.25 428.50,74.20 C431.22,69.15 433.97,64.53 436.70,60.30 C439.43,56.07 442.17,51.80 444.90,48.80 C447.63,45.80 450.37,43.85 453.10,42.30 C455.83,40.75 458.03,40.18 461.30,39.50 C464.57,38.82 468.92,38.15 472.70,38.20 C476.48,38.25 480.55,38.98 484.00,39.80 C487.45,40.62 490.73,41.75 493.40,43.10 C496.07,44.45 497.27,45.97 500.00,47.90 C502.73,49.83 506.53,51.77 509.80,54.70 C513.07,57.63 516.32,62.05 519.60,65.50 C522.88,68.95 526.22,72.12 529.50,75.40 C532.78,78.68 536.03,81.77 539.30,85.20 C542.57,88.63 545.83,92.73 549.10,96.00 C552.37,99.27 555.62,101.68 558.90,104.80 C562.18,107.92 565.63,111.90 568.80,114.70 C571.97,117.50 575.08,119.58 577.90,121.60 C580.72,123.62 583.08,124.95 585.70,126.80 C588.32,128.65 590.98,131.07 593.60,132.70 C596.22,134.33 598.78,135.28 601.40,136.60 C604.02,137.92 606.68,139.17 609.30,140.60 C611.92,142.03 614.48,143.68 617.10,145.20 C619.72,146.72 622.82,148.73 625.00,149.70 C627.18,150.67 628.68,151.22 630.20,151.00 C631.72,150.78 633.45,148.83 634.10,148.40" fill="none" stroke="#4F81BD" stroke-width="2.4" stroke-linejoin="round" stroke-linecap="round" />
<text transform="translate(396.00,12.58) scale(1,1.2)" font-size="14.0" text-anchor="end" fill="#595959">300</text>
<text transform="translate(396.00,51.88) scale(1,1.2)" font-size="14.0" text-anchor="end" fill="#595959">240</text>
<text transform="translate(396.00,91.18) scale(1,1.2)" font-size="14.0" text-anchor="end" fill="#595959">180</text>
<text transform="translate(396.00,130.48) scale(1,1.2)" font-size="14.0" text-anchor="end" fill="#595959">120</text>
<text transform="translate(396.00,169.78) scale(1,1.2)" font-size="14.0" text-anchor="end" fill="#595959">60</text>
<text transform="translate(396.00,209.08) scale(1,1.2)" font-size="14.0" text-anchor="end" fill="#595959">0</text>
<text transform="translate(408.00,226.58) scale(1,1.2)" font-size="14.0" text-anchor="middle" fill="#595959">400</text>
<text transform="translate(483.50,226.58) scale(1,1.2)" font-size="14.0" text-anchor="middle" fill="#595959">450</text>
<text transform="translate(559.00,226.58) scale(1,1.2)" font-size="14.0" text-anchor="middle" fill="#595959">500</text>
<text transform="translate(633.50,226.58) scale(1,1.2)" font-size="14.0" text-anchor="middle" fill="#595959">550</text>
<text x="521.8" y="247.7" font-size="14.6" text-anchor="middle" fill="#595959" >Wavelength  (nm)</text>
<text x="366.8" y="106" font-size="15.6" text-anchor="middle" fill="#595959" transform="rotate(-90 366.8 106)">F I (a. u.)</text>
<text x="489.0" y="12.6" font-size="17" text-anchor="start" fill="#000" >b</text>
<line x1="539.3" y1="38" x2="539.3" y2="63.900000000000006" stroke="#4F81BD" stroke-width="1.5"/>
<path d="M534.6999999999999,62.900000000000006 L539.3,72.4 L543.9,62.900000000000006 Z" fill="#4F81BD"/>
<line x1="64.2" y1="321.4" x2="64.2" y2="563.5" stroke="#262626" stroke-width="1.3"/>
<line x1="63.55" y1="563.5" x2="325.6" y2="563.5" stroke="#262626" stroke-width="1.3"/>
<path d="M64.20,476.80 C64.94,474.37 67.15,467.04 68.63,462.19 C70.11,457.35 71.58,452.46 73.06,447.72 C74.53,442.97 76.01,438.25 77.49,433.71 C78.96,429.18 80.44,424.74 81.92,420.49 C83.39,416.25 84.87,412.20 86.34,408.26 C87.82,404.32 89.30,400.56 90.77,396.87 C92.25,393.19 93.73,389.62 95.20,386.15 C96.68,382.68 98.15,379.29 99.63,376.05 C101.11,372.80 102.58,369.65 104.06,366.66 C105.54,363.67 107.01,360.81 108.49,358.11 C109.96,355.42 111.44,352.86 112.92,350.49 C114.39,348.13 115.87,345.91 117.35,343.91 C118.82,341.91 120.30,340.08 121.77,338.47 C123.25,336.86 124.73,335.45 126.20,334.27 C127.68,333.10 129.16,332.14 130.63,331.41 C132.11,330.68 133.58,330.18 135.06,329.88 C136.54,329.58 138.01,329.50 139.49,329.62 C140.97,329.74 142.44,330.07 143.92,330.58 C145.39,331.10 146.87,331.82 148.35,332.72 C149.82,333.61 151.30,334.70 152.78,335.96 C154.25,337.22 155.73,338.67 157.21,340.27 C158.68,341.87 160.16,343.66 161.63,345.58 C163.11,347.51 164.59,349.62 166.06,351.82 C167.54,354.02 169.02,356.37 170.49,358.77 C171.97,361.17 173.44,363.69 174.92,366.21 C176.40,368.73 177.87,371.33 179.35,373.90 C180.83,376.46 182.30,379.07 183.78,381.60 C185.25,384.14 186.73,386.64 188.21,389.11 C189.68,391.58 191.16,394.00 192.64,396.41 C194.11,398.83 195.59,401.21 197.06,403.59 C198.54,405.96 200.02,408.33 201.49,410.67 C202.97,413.02 204.45,415.36 205.92,417.67 C207.40,419.99 208.87,422.29 210.35,424.57 C211.83,426.86 213.30,429.12 214.78,431.37 C216.26,433.61 217.73,435.84 219.21,438.04 C220.68,440.24 222.16,442.43 223.64,444.59 C225.11,446.75 226.59,448.88 228.07,450.99 C229.54,453.11 231.02,455.19 232.49,457.25 C233.97,459.31 235.45,461.35 236.92,463.36 C238.40,465.36 239.88,467.34 241.35,469.29 C242.83,471.24 244.31,473.15 245.78,475.04 C247.26,476.93 248.73,478.78 250.21,480.61 C251.69,482.43 253.16,484.22 254.64,485.97 C256.12,487.73 257.59,489.45 259.07,491.13 C260.54,492.82 262.02,494.46 263.50,496.07 C264.97,497.68 266.45,499.25 267.93,500.78 C269.40,502.31 270.88,503.81 272.35,505.26 C273.83,506.71 275.31,508.12 276.78,509.48 C278.26,510.85 279.74,512.17 281.21,513.45 C282.69,514.72 284.16,515.96 285.64,517.15 C287.12,518.33 288.59,519.47 290.07,520.56 C291.55,521.66 293.02,522.70 294.50,523.69 C295.97,524.69 297.45,525.63 298.93,526.53 C300.40,527.42 301.88,528.26 303.36,529.05 C304.83,529.84 306.31,530.57 307.78,531.25 C309.26,531.93 310.74,532.56 312.21,533.13 C313.69,533.70 315.17,534.21 316.64,534.67 C318.12,535.12 319.59,535.52 321.07,535.85 C322.55,536.19 324.76,536.55 325.50,536.68" fill="none" stroke="#4F81BD" stroke-width="2.3" stroke-linejoin="round" stroke-linecap="round" />
<path d="M64.20,477.06 C64.94,474.72 67.15,467.69 68.63,463.04 C70.11,458.39 71.58,453.71 73.06,449.16 C74.53,444.61 76.01,440.09 77.49,435.75 C78.96,431.40 80.44,427.15 81.92,423.09 C83.39,419.02 84.87,415.14 86.34,411.37 C87.82,407.59 89.30,403.99 90.77,400.46 C92.25,396.93 93.73,393.51 95.20,390.19 C96.68,386.86 98.15,383.62 99.63,380.51 C101.11,377.40 102.58,374.39 104.06,371.53 C105.54,368.67 107.01,365.92 108.49,363.34 C109.96,360.76 111.44,358.32 112.92,356.05 C114.39,353.79 115.87,351.67 117.35,349.76 C118.82,347.84 120.30,346.09 121.77,344.55 C123.25,343.01 124.73,341.66 126.20,340.53 C127.68,339.41 129.16,338.50 130.63,337.79 C132.11,337.09 133.58,336.61 135.06,336.33 C136.54,336.04 138.01,335.97 139.49,336.09 C140.97,336.20 142.44,336.52 143.92,337.02 C145.39,337.52 146.87,338.22 148.35,339.08 C149.82,339.95 151.30,341.01 152.78,342.22 C154.25,343.44 155.73,344.83 157.21,346.38 C158.68,347.93 160.16,349.65 161.63,351.51 C163.11,353.37 164.59,355.41 166.06,357.53 C167.54,359.65 169.02,361.93 170.49,364.24 C171.97,366.56 173.44,368.99 174.92,371.43 C176.40,373.86 177.87,376.38 179.35,378.86 C180.83,381.34 182.30,383.86 183.78,386.31 C185.25,388.77 186.73,391.19 188.21,393.59 C189.68,395.98 191.16,398.33 192.64,400.67 C194.11,403.02 195.59,405.33 197.06,407.65 C198.54,409.96 200.02,412.26 201.49,414.55 C202.97,416.84 204.45,419.13 205.92,421.39 C207.40,423.66 208.87,425.91 210.35,428.15 C211.83,430.38 213.30,432.60 214.78,434.80 C216.26,437.00 217.73,439.18 219.21,441.34 C220.68,443.50 222.16,445.63 223.64,447.75 C225.11,449.86 226.59,451.95 228.07,454.01 C229.54,456.07 231.02,458.11 232.49,460.12 C233.97,462.13 235.45,464.11 236.92,466.07 C238.40,468.02 239.88,469.95 241.35,471.84 C242.83,473.74 244.31,475.61 245.78,477.44 C247.26,479.28 248.73,481.08 250.21,482.85 C251.69,484.62 253.16,486.36 254.64,488.06 C256.12,489.77 257.59,491.44 259.07,493.07 C260.54,494.70 262.02,496.30 263.50,497.86 C264.97,499.42 266.45,500.95 267.93,502.43 C269.40,503.91 270.88,505.36 272.35,506.76 C273.83,508.16 275.31,509.53 276.78,510.85 C278.26,512.17 279.74,513.45 281.21,514.69 C282.69,515.92 284.16,517.12 285.64,518.26 C287.12,519.41 288.59,520.52 290.07,521.57 C291.55,522.63 293.02,523.64 294.50,524.60 C295.97,525.56 297.45,526.47 298.93,527.33 C300.40,528.20 301.88,529.01 303.36,529.77 C304.83,530.53 306.31,531.25 307.78,531.91 C309.26,532.56 310.74,533.17 312.21,533.72 C313.69,534.27 315.17,534.77 316.64,535.21 C318.12,535.65 319.59,536.04 321.07,536.37 C322.55,536.70 324.76,537.04 325.50,537.18" fill="none" stroke="#9BBB59" stroke-width="2.3" stroke-linejoin="round" stroke-linecap="round" />
<path d="M64.20,477.35 C64.94,475.13 67.15,468.43 68.63,464.01 C70.11,459.59 71.58,455.15 73.06,450.83 C74.53,446.51 76.01,442.22 77.49,438.10 C78.96,433.97 80.44,429.94 81.92,426.08 C83.39,422.22 84.87,418.53 86.34,414.95 C87.82,411.37 89.30,407.95 90.77,404.59 C92.25,401.24 93.73,398.00 95.20,394.84 C96.68,391.69 98.15,388.61 99.63,385.66 C101.11,382.71 102.58,379.86 104.06,377.14 C105.54,374.43 107.01,371.83 108.49,369.38 C109.96,366.93 111.44,364.62 112.92,362.47 C114.39,360.32 115.87,358.32 117.35,356.50 C118.82,354.68 120.30,353.02 121.77,351.57 C123.25,350.11 124.73,348.83 126.20,347.76 C127.68,346.69 129.16,345.83 130.63,345.16 C132.11,344.50 133.58,344.04 135.06,343.77 C136.54,343.50 138.01,343.44 139.49,343.55 C140.97,343.67 142.44,343.97 143.92,344.45 C145.39,344.93 146.87,345.60 148.35,346.43 C149.82,347.27 151.30,348.28 152.78,349.45 C154.25,350.61 155.73,351.95 157.21,353.44 C158.68,354.92 160.16,356.58 161.63,358.36 C163.11,360.14 164.59,362.09 166.06,364.12 C167.54,366.16 169.02,368.34 170.49,370.56 C171.97,372.78 173.44,375.11 174.92,377.45 C176.40,379.78 177.87,382.20 179.35,384.58 C180.83,386.96 182.30,389.38 183.78,391.74 C185.25,394.11 186.73,396.44 188.21,398.75 C189.68,401.06 191.16,403.32 192.64,405.59 C194.11,407.85 195.59,410.09 197.06,412.33 C198.54,414.57 200.02,416.80 201.49,419.03 C202.97,421.26 204.45,423.48 205.92,425.68 C207.40,427.89 208.87,430.09 210.35,432.27 C211.83,434.45 213.30,436.62 214.78,438.77 C216.26,440.91 217.73,443.04 219.21,445.15 C220.68,447.25 222.16,449.33 223.64,451.39 C225.11,453.45 226.59,455.48 228.07,457.48 C229.54,459.49 231.02,461.47 232.49,463.42 C233.97,465.37 235.45,467.30 236.92,469.19 C238.40,471.09 239.88,472.96 241.35,474.79 C242.83,476.63 244.31,478.44 245.78,480.21 C247.26,481.99 248.73,483.73 250.21,485.44 C251.69,487.15 253.16,488.83 254.64,490.48 C256.12,492.12 257.59,493.73 259.07,495.31 C260.54,496.88 262.02,498.42 263.50,499.93 C264.97,501.43 266.45,502.90 267.93,504.33 C269.40,505.75 270.88,507.15 272.35,508.50 C273.83,509.85 275.31,511.16 276.78,512.43 C278.26,513.70 279.74,514.93 281.21,516.12 C282.69,517.31 284.16,518.45 285.64,519.56 C287.12,520.66 288.59,521.72 290.07,522.73 C291.55,523.75 293.02,524.72 294.50,525.64 C295.97,526.56 297.45,527.44 298.93,528.27 C300.40,529.09 301.88,529.88 303.36,530.61 C304.83,531.34 306.31,532.03 307.78,532.66 C309.26,533.29 310.74,533.87 312.21,534.40 C313.69,534.94 315.17,535.42 316.64,535.84 C318.12,536.27 319.59,536.64 321.07,536.96 C322.55,537.28 324.76,537.62 325.50,537.75" fill="none" stroke="#772C2A" stroke-width="2.3" stroke-linejoin="round" stroke-linecap="round" />
<path d="M64.20,477.66 C64.94,475.56 67.15,469.23 68.63,465.05 C70.11,460.88 71.58,456.68 73.06,452.61 C74.53,448.53 76.01,444.49 77.49,440.60 C78.96,436.71 80.44,432.91 81.92,429.27 C83.39,425.63 84.87,422.15 86.34,418.77 C87.82,415.40 89.30,412.17 90.77,409.01 C92.25,405.84 93.73,402.78 95.20,399.81 C96.68,396.84 98.15,393.94 99.63,391.16 C101.11,388.38 102.58,385.69 104.06,383.13 C105.54,380.58 107.01,378.12 108.49,375.82 C109.96,373.52 111.44,371.33 112.92,369.31 C114.39,367.29 115.87,365.40 117.35,363.69 C118.82,361.98 120.30,360.42 121.77,359.05 C123.25,357.68 124.73,356.47 126.20,355.46 C127.68,354.46 129.16,353.64 130.63,353.02 C132.11,352.39 133.58,351.96 135.06,351.71 C136.54,351.46 138.01,351.40 139.49,351.51 C140.97,351.62 142.44,351.92 143.92,352.38 C145.39,352.84 146.87,353.48 148.35,354.27 C149.82,355.07 151.30,356.04 152.78,357.15 C154.25,358.27 155.73,359.55 157.21,360.96 C158.68,362.38 160.16,363.96 161.63,365.66 C163.11,367.36 164.59,369.22 166.06,371.16 C167.54,373.10 169.02,375.17 170.49,377.29 C171.97,379.41 173.44,381.64 174.92,383.87 C176.40,386.10 177.87,388.40 179.35,390.68 C180.83,392.96 182.30,395.28 183.78,397.54 C185.25,399.80 186.73,402.04 188.21,404.26 C189.68,406.47 191.16,408.65 192.64,410.83 C194.11,413.01 195.59,415.16 197.06,417.33 C198.54,419.49 200.02,421.65 201.49,423.81 C202.97,425.96 204.45,428.12 205.92,430.26 C207.40,432.41 208.87,434.55 210.35,436.67 C211.83,438.79 213.30,440.90 214.78,442.99 C216.26,445.08 217.73,447.16 219.21,449.21 C220.68,451.25 222.16,453.28 223.64,455.28 C225.11,457.27 226.59,459.25 228.07,461.19 C229.54,463.14 231.02,465.05 232.49,466.94 C233.97,468.83 235.45,470.70 236.92,472.53 C238.40,474.36 239.88,476.16 241.35,477.94 C242.83,479.71 244.31,481.45 245.78,483.16 C247.26,484.88 248.73,486.56 250.21,488.20 C251.69,489.85 253.16,491.47 254.64,493.05 C256.12,494.63 257.59,496.18 259.07,497.69 C260.54,499.21 262.02,500.69 263.50,502.13 C264.97,503.57 266.45,504.98 267.93,506.35 C269.40,507.72 270.88,509.05 272.35,510.35 C273.83,511.64 275.31,512.90 276.78,514.12 C278.26,515.33 279.74,516.51 281.21,517.65 C282.69,518.78 284.16,519.88 285.64,520.93 C287.12,521.99 288.59,523.00 290.07,523.97 C291.55,524.94 293.02,525.87 294.50,526.75 C295.97,527.63 297.45,528.47 298.93,529.26 C300.40,530.05 301.88,530.80 303.36,531.50 C304.83,532.20 306.31,532.85 307.78,533.46 C309.26,534.07 310.74,534.62 312.21,535.13 C313.69,535.64 315.17,536.10 316.64,536.51 C318.12,536.92 319.59,537.28 321.07,537.59 C322.55,537.90 324.76,538.23 325.50,538.36" fill="none" stroke="#31859C" stroke-width="2.3" stroke-linejoin="round" stroke-linecap="round" />
<path d="M64.20,477.99 C64.94,476.01 67.15,470.05 68.63,466.13 C70.11,462.21 71.58,458.28 73.06,454.45 C74.53,450.63 76.01,446.84 77.49,443.20 C78.96,439.55 80.44,435.99 81.92,432.58 C83.39,429.17 84.87,425.91 86.34,422.74 C87.82,419.58 89.30,416.54 90.77,413.58 C92.25,410.62 93.73,407.75 95.20,404.96 C96.68,402.18 98.15,399.46 99.63,396.86 C101.11,394.25 102.58,391.74 104.06,389.34 C105.54,386.95 107.01,384.66 108.49,382.50 C109.96,380.35 111.44,378.30 112.92,376.41 C114.39,374.52 115.87,372.76 117.35,371.16 C118.82,369.56 120.30,368.09 121.77,366.81 C123.25,365.53 124.73,364.40 126.20,363.46 C127.68,362.52 129.16,361.75 130.63,361.17 C132.11,360.59 133.58,360.19 135.06,359.95 C136.54,359.72 138.01,359.67 139.49,359.77 C140.97,359.88 142.44,360.16 143.92,360.60 C145.39,361.04 146.87,361.65 148.35,362.41 C149.82,363.17 151.30,364.09 152.78,365.15 C154.25,366.21 155.73,367.42 157.21,368.77 C158.68,370.12 160.16,371.62 161.63,373.23 C163.11,374.84 164.59,376.61 166.06,378.45 C167.54,380.29 169.02,382.27 170.49,384.28 C171.97,386.29 173.44,388.41 174.92,390.53 C176.40,392.65 177.87,394.84 179.35,397.02 C180.83,399.19 182.30,401.39 183.78,403.55 C185.25,405.71 186.73,407.85 188.21,409.97 C189.68,412.09 191.16,414.18 192.64,416.27 C194.11,418.36 195.59,420.43 197.06,422.51 C198.54,424.59 200.02,426.68 201.49,428.76 C202.97,430.84 204.45,432.93 205.92,435.01 C207.40,437.09 208.87,439.17 210.35,441.23 C211.83,443.29 213.30,445.35 214.78,447.38 C216.26,449.41 217.73,451.43 219.21,453.42 C220.68,455.41 222.16,457.37 223.64,459.31 C225.11,461.25 226.59,463.16 228.07,465.04 C229.54,466.92 231.02,468.77 232.49,470.60 C233.97,472.42 235.45,474.22 236.92,475.99 C238.40,477.75 239.88,479.49 241.35,481.20 C242.83,482.91 244.31,484.58 245.78,486.23 C247.26,487.87 248.73,489.49 250.21,491.07 C251.69,492.65 253.16,494.20 254.64,495.72 C256.12,497.24 257.59,498.72 259.07,500.17 C260.54,501.62 262.02,503.03 263.50,504.41 C264.97,505.79 266.45,507.14 267.93,508.45 C269.40,509.76 270.88,511.03 272.35,512.27 C273.83,513.50 275.31,514.70 276.78,515.86 C278.26,517.02 279.74,518.15 281.21,519.23 C282.69,520.31 284.16,521.36 285.64,522.36 C287.12,523.37 288.59,524.33 290.07,525.26 C291.55,526.18 293.02,527.06 294.50,527.90 C295.97,528.74 297.45,529.54 298.93,530.29 C300.40,531.05 301.88,531.76 303.36,532.43 C304.83,533.09 306.31,533.72 307.78,534.29 C309.26,534.87 310.74,535.40 312.21,535.89 C313.69,536.38 315.17,536.82 316.64,537.21 C318.12,537.60 319.59,537.95 321.07,538.25 C322.55,538.54 324.76,538.87 325.50,538.99" fill="none" stroke="#D99694" stroke-width="2.3" stroke-linejoin="round" stroke-linecap="round" />
<path d="M64.20,478.33 C64.94,476.48 67.15,470.92 68.63,467.26 C70.11,463.60 71.58,459.95 73.06,456.39 C74.53,452.83 76.01,449.31 77.49,445.92 C78.96,442.53 80.44,439.22 81.92,436.05 C83.39,432.88 84.87,429.85 86.34,426.90 C87.82,423.95 89.30,421.13 90.77,418.38 C92.25,415.62 93.73,412.96 95.20,410.36 C96.68,407.77 98.15,405.25 99.63,402.83 C101.11,400.42 102.58,398.08 104.06,395.86 C105.54,393.63 107.01,391.51 108.49,389.51 C109.96,387.51 111.44,385.61 112.92,383.86 C114.39,382.10 115.87,380.46 117.35,378.98 C118.82,377.49 120.30,376.14 121.77,374.95 C123.25,373.76 124.73,372.71 126.20,371.84 C127.68,370.97 129.16,370.26 130.63,369.72 C132.11,369.17 133.58,368.80 135.06,368.59 C136.54,368.37 138.01,368.33 139.49,368.43 C140.97,368.54 142.44,368.81 143.92,369.22 C145.39,369.64 146.87,370.22 148.35,370.93 C149.82,371.65 151.30,372.52 152.78,373.53 C154.25,374.53 155.73,375.68 157.21,376.96 C158.68,378.23 160.16,379.65 161.63,381.17 C163.11,382.69 164.59,384.36 166.06,386.10 C167.54,387.84 169.02,389.70 170.49,391.60 C171.97,393.51 173.44,395.50 174.92,397.51 C176.40,399.52 177.87,401.59 179.35,403.65 C180.83,405.71 182.30,407.80 183.78,409.85 C185.25,411.91 186.73,413.94 188.21,415.96 C189.68,417.98 191.16,419.97 192.64,421.97 C194.11,423.96 195.59,425.95 197.06,427.94 C198.54,429.94 200.02,431.94 201.49,433.95 C202.97,435.96 204.45,437.98 205.92,439.99 C207.40,442.00 208.87,444.02 210.35,446.02 C211.83,448.01 213.30,450.01 214.78,451.98 C216.26,453.95 217.73,455.91 219.21,457.83 C220.68,459.76 222.16,461.66 223.64,463.54 C225.11,465.41 226.59,467.25 228.07,469.07 C229.54,470.88 231.02,472.67 232.49,474.43 C233.97,476.19 235.45,477.92 236.92,479.62 C238.40,481.31 239.88,482.98 241.35,484.62 C242.83,486.26 244.31,487.87 245.78,489.44 C247.26,491.02 248.73,492.56 250.21,494.07 C251.69,495.59 253.16,497.07 254.64,498.52 C256.12,499.96 257.59,501.38 259.07,502.76 C260.54,504.15 262.02,505.49 263.50,506.81 C264.97,508.12 266.45,509.40 267.93,510.65 C269.40,511.90 270.88,513.11 272.35,514.28 C273.83,515.45 275.31,516.59 276.78,517.70 C278.26,518.80 279.74,519.86 281.21,520.89 C282.69,521.92 284.16,522.91 285.64,523.86 C287.12,524.81 288.59,525.73 290.07,526.60 C291.55,527.48 293.02,528.31 294.50,529.11 C295.97,529.90 297.45,530.66 298.93,531.37 C300.40,532.09 301.88,532.76 303.36,533.39 C304.83,534.03 306.31,534.62 307.78,535.17 C309.26,535.71 310.74,536.22 312.21,536.68 C313.69,537.14 315.17,537.56 316.64,537.94 C318.12,538.31 319.59,538.65 321.07,538.93 C322.55,539.22 324.76,539.53 325.50,539.66" fill="none" stroke="#93CDDD" stroke-width="2.3" stroke-linejoin="round" stroke-linecap="round" />
<path d="M64.20,478.82 C64.94,477.16 67.15,472.16 68.63,468.88 C70.11,465.61 71.58,462.34 73.06,459.17 C74.53,455.99 76.01,452.86 77.49,449.84 C78.96,446.81 80.44,443.87 81.92,441.04 C83.39,438.21 84.87,435.50 86.34,432.88 C87.82,430.25 89.30,427.73 90.77,425.27 C92.25,422.81 93.73,420.43 95.20,418.13 C96.68,415.82 98.15,413.57 99.63,411.42 C101.11,409.27 102.58,407.19 104.06,405.21 C105.54,403.24 107.01,401.34 108.49,399.57 C109.96,397.79 111.44,396.11 112.92,394.55 C114.39,392.99 115.87,391.54 117.35,390.22 C118.82,388.90 120.30,387.70 121.77,386.64 C123.25,385.58 124.73,384.65 126.20,383.88 C127.68,383.10 129.16,382.47 130.63,381.99 C132.11,381.51 133.58,381.18 135.06,381.00 C136.54,380.81 138.01,380.77 139.49,380.87 C140.97,380.97 142.44,381.22 143.92,381.61 C145.39,381.99 146.87,382.52 148.35,383.18 C149.82,383.84 151.30,384.65 152.78,385.57 C154.25,386.49 155.73,387.55 157.21,388.72 C158.68,389.88 160.16,391.18 161.63,392.58 C163.11,393.97 164.59,395.50 166.06,397.09 C167.54,398.68 169.02,400.39 170.49,402.13 C171.97,403.87 173.44,405.70 174.92,407.54 C176.40,409.39 177.87,411.29 179.35,413.19 C180.83,415.08 182.30,417.01 183.78,418.91 C185.25,420.81 186.73,422.69 188.21,424.57 C189.68,426.44 191.16,428.29 192.64,430.16 C194.11,432.02 195.59,433.88 197.06,435.75 C198.54,437.63 200.02,439.51 201.49,441.41 C202.97,443.31 204.45,445.23 205.92,447.14 C207.40,449.06 208.87,450.98 210.35,452.89 C211.83,454.79 213.30,456.70 214.78,458.59 C216.26,460.47 217.73,462.34 219.21,464.18 C220.68,466.01 222.16,467.83 223.64,469.61 C225.11,471.39 226.59,473.14 228.07,474.86 C229.54,476.58 231.02,478.27 232.49,479.94 C233.97,481.60 235.45,483.23 236.92,484.83 C238.40,486.43 239.88,488.00 241.35,489.53 C242.83,491.07 244.31,492.58 245.78,494.06 C247.26,495.53 248.73,496.98 250.21,498.39 C251.69,499.80 253.16,501.19 254.64,502.54 C256.12,503.89 257.59,505.21 259.07,506.49 C260.54,507.78 262.02,509.03 263.50,510.25 C264.97,511.47 266.45,512.66 267.93,513.81 C269.40,514.97 270.88,516.09 272.35,517.17 C273.83,518.26 275.31,519.31 276.78,520.33 C278.26,521.35 279.74,522.33 281.21,523.28 C282.69,524.22 284.16,525.14 285.64,526.01 C287.12,526.89 288.59,527.73 290.07,528.54 C291.55,529.34 293.02,530.11 294.50,530.84 C295.97,531.57 297.45,532.27 298.93,532.93 C300.40,533.58 301.88,534.21 303.36,534.79 C304.83,535.37 306.31,535.91 307.78,536.42 C309.26,536.93 310.74,537.39 312.21,537.82 C313.69,538.25 315.17,538.64 316.64,538.99 C318.12,539.34 319.59,539.65 321.07,539.92 C322.55,540.19 324.76,540.49 325.50,540.61" fill="none" stroke="#C0504D" stroke-width="2.3" stroke-linejoin="round" stroke-linecap="round" />
<path d="M64.20,479.15 C64.94,477.62 67.15,473.00 68.63,469.99 C70.11,466.97 71.58,463.97 73.06,461.06 C74.53,458.14 76.01,455.27 77.49,452.50 C78.96,449.73 80.44,447.02 81.92,444.43 C83.39,441.84 84.87,439.35 86.34,436.94 C87.82,434.53 89.30,432.21 90.77,429.96 C92.25,427.70 93.73,425.52 95.20,423.40 C96.68,421.29 98.15,419.23 99.63,417.26 C101.11,415.29 102.58,413.38 104.06,411.57 C105.54,409.77 107.01,408.04 108.49,406.41 C109.96,404.78 111.44,403.24 112.92,401.82 C114.39,400.40 115.87,399.07 117.35,397.86 C118.82,396.66 120.30,395.56 121.77,394.59 C123.25,393.62 124.73,392.77 126.20,392.06 C127.68,391.36 129.16,390.78 130.63,390.34 C132.11,389.90 133.58,389.60 135.06,389.43 C136.54,389.27 138.01,389.23 139.49,389.33 C140.97,389.43 142.44,389.67 143.92,390.03 C145.39,390.39 146.87,390.89 148.35,391.51 C149.82,392.13 151.30,392.89 152.78,393.76 C154.25,394.62 155.73,395.61 157.21,396.71 C158.68,397.81 160.16,399.02 161.63,400.33 C163.11,401.64 164.59,403.07 166.06,404.56 C167.54,406.05 169.02,407.65 170.49,409.28 C171.97,410.92 173.44,412.63 174.92,414.37 C176.40,416.10 177.87,417.89 179.35,419.67 C180.83,421.46 182.30,423.28 183.78,425.07 C185.25,426.86 186.73,428.64 188.21,430.42 C189.68,432.20 191.16,433.95 192.64,435.73 C194.11,437.50 195.59,439.27 197.06,441.06 C198.54,442.85 200.02,444.66 201.49,446.49 C202.97,448.31 204.45,450.16 205.92,452.01 C207.40,453.85 208.87,455.72 210.35,457.56 C211.83,459.41 213.30,461.26 214.78,463.08 C216.26,464.90 217.73,466.71 219.21,468.49 C220.68,470.27 222.16,472.02 223.64,473.74 C225.11,475.46 226.59,477.14 228.07,478.80 C229.54,480.46 231.02,482.08 232.49,483.68 C233.97,485.27 235.45,486.84 236.92,488.37 C238.40,489.90 239.88,491.41 241.35,492.88 C242.83,494.35 244.31,495.79 245.78,497.20 C247.26,498.60 248.73,499.98 250.21,501.33 C251.69,502.67 253.16,503.99 254.64,505.27 C256.12,506.55 257.59,507.81 259.07,509.03 C260.54,510.25 262.02,511.43 263.50,512.59 C264.97,513.75 266.45,514.87 267.93,515.96 C269.40,517.05 270.88,518.11 272.35,519.14 C273.83,520.17 275.31,521.16 276.78,522.12 C278.26,523.08 279.74,524.01 281.21,524.90 C282.69,525.79 284.16,526.65 285.64,527.48 C287.12,528.30 288.59,529.10 290.07,529.85 C291.55,530.61 293.02,531.33 294.50,532.02 C295.97,532.71 297.45,533.37 298.93,533.98 C300.40,534.60 301.88,535.19 303.36,535.73 C304.83,536.28 306.31,536.80 307.78,537.27 C309.26,537.75 310.74,538.19 312.21,538.60 C313.69,539.00 315.17,539.37 316.64,539.70 C318.12,540.03 319.59,540.33 321.07,540.59 C322.55,540.85 324.76,541.14 325.50,541.26" fill="none" stroke="#4BACC6" stroke-width="2.3" stroke-linejoin="round" stroke-linecap="round" />
<path d="M64.20,479.47 C64.94,478.06 67.15,473.80 68.63,471.02 C70.11,468.25 71.58,465.51 73.06,462.84 C74.53,460.17 76.01,457.54 77.49,455.00 C78.96,452.47 80.44,449.99 81.92,447.62 C83.39,445.25 84.87,442.97 86.34,440.76 C87.82,438.55 89.30,436.43 90.77,434.37 C92.25,432.30 93.73,430.31 95.20,428.37 C96.68,426.43 98.15,424.55 99.63,422.75 C101.11,420.95 102.58,419.21 104.06,417.56 C105.54,415.91 107.01,414.33 108.49,412.85 C109.96,411.37 111.44,409.96 112.92,408.66 C114.39,407.36 115.87,406.15 117.35,405.05 C118.82,403.96 120.30,402.95 121.77,402.07 C123.25,401.19 124.73,400.42 126.20,399.77 C127.68,399.12 129.16,398.60 130.63,398.20 C132.11,397.80 133.58,397.53 135.06,397.37 C136.54,397.22 138.01,397.20 139.49,397.29 C140.97,397.39 142.44,397.61 143.92,397.95 C145.39,398.30 146.87,398.77 148.35,399.35 C149.82,399.94 151.30,400.65 152.78,401.46 C154.25,402.28 155.73,403.21 157.21,404.24 C158.68,405.27 160.16,406.41 161.63,407.63 C163.11,408.86 164.59,410.20 166.06,411.60 C167.54,412.99 169.02,414.49 170.49,416.02 C171.97,417.55 173.44,419.16 174.92,420.79 C176.40,422.41 177.87,424.10 179.35,425.78 C180.83,427.46 182.30,429.17 183.78,430.86 C185.25,432.55 186.73,434.25 188.21,435.93 C189.68,437.61 191.16,439.28 192.64,440.97 C194.11,442.66 195.59,444.34 197.06,446.06 C198.54,447.77 200.02,449.51 201.49,451.26 C202.97,453.02 204.45,454.80 205.92,456.58 C207.40,458.37 208.87,460.17 210.35,461.96 C211.83,463.75 213.30,465.54 214.78,467.31 C216.26,469.07 217.73,470.83 219.21,472.55 C220.68,474.27 222.16,475.97 223.64,477.63 C225.11,479.29 226.59,480.91 228.07,482.51 C229.54,484.11 231.02,485.67 232.49,487.20 C233.97,488.74 235.45,490.24 236.92,491.71 C238.40,493.18 239.88,494.61 241.35,496.02 C242.83,497.43 244.31,498.80 245.78,500.15 C247.26,501.49 248.73,502.81 250.21,504.09 C251.69,505.37 253.16,506.62 254.64,507.84 C256.12,509.06 257.59,510.25 259.07,511.41 C260.54,512.57 262.02,513.70 263.50,514.79 C264.97,515.89 266.45,516.95 267.93,517.99 C269.40,519.02 270.88,520.02 272.35,520.99 C273.83,521.96 275.31,522.90 276.78,523.80 C278.26,524.71 279.74,525.58 281.21,526.43 C282.69,527.27 284.16,528.08 285.64,528.86 C287.12,529.63 288.59,530.38 290.07,531.09 C291.55,531.81 293.02,532.49 294.50,533.13 C295.97,533.78 297.45,534.40 298.93,534.98 C300.40,535.56 301.88,536.11 303.36,536.63 C304.83,537.14 306.31,537.63 307.78,538.08 C309.26,538.53 310.74,538.94 312.21,539.32 C313.69,539.71 315.17,540.06 316.64,540.37 C318.12,540.69 319.59,540.97 321.07,541.22 C322.55,541.47 324.76,541.76 325.50,541.86" fill="none" stroke="#E6B9B8" stroke-width="2.3" stroke-linejoin="round" stroke-linecap="round" />
<path d="M64.20,479.80 C64.94,478.52 67.15,474.64 68.63,472.13 C70.11,469.62 71.58,467.14 73.06,464.73 C74.53,462.32 76.01,459.95 77.49,457.66 C78.96,455.38 80.44,453.15 81.92,451.01 C83.39,448.87 84.87,446.82 86.34,444.82 C87.82,442.83 89.30,440.92 90.77,439.06 C92.25,437.19 93.73,435.39 95.20,433.65 C96.68,431.90 98.15,430.21 99.63,428.59 C101.11,426.97 102.58,425.41 104.06,423.93 C105.54,422.44 107.01,421.02 108.49,419.69 C109.96,418.36 111.44,417.10 112.92,415.94 C114.39,414.77 115.87,413.68 117.35,412.70 C118.82,411.71 120.30,410.81 121.77,410.02 C123.25,409.23 124.73,408.54 126.20,407.96 C127.68,407.38 129.16,406.91 130.63,406.55 C132.11,406.19 133.58,405.94 135.06,405.81 C136.54,405.68 138.01,405.66 139.49,405.75 C140.97,405.85 142.44,406.06 143.92,406.38 C145.39,406.70 146.87,407.14 148.35,407.68 C149.82,408.23 151.30,408.89 152.78,409.65 C154.25,410.41 155.73,411.28 157.21,412.23 C158.68,413.19 160.16,414.25 161.63,415.39 C163.11,416.53 164.59,417.77 166.06,419.07 C167.54,420.37 169.02,421.75 170.49,423.17 C171.97,424.60 173.44,426.09 174.92,427.61 C176.40,429.12 177.87,430.69 179.35,432.26 C180.83,433.83 182.30,435.43 183.78,437.02 C185.25,438.61 186.73,440.20 188.21,441.78 C189.68,443.37 191.16,444.94 192.64,446.54 C194.11,448.14 195.59,449.73 197.06,451.37 C198.54,453.00 200.02,454.65 201.49,456.33 C202.97,458.01 204.45,459.73 205.92,461.45 C207.40,463.16 208.87,464.91 210.35,466.63 C211.83,468.36 213.30,470.09 214.78,471.80 C216.26,473.50 217.73,475.21 219.21,476.86 C220.68,478.52 222.16,480.16 223.64,481.76 C225.11,483.35 226.59,484.92 228.07,486.45 C229.54,487.98 231.02,489.48 232.49,490.95 C233.97,492.41 235.45,493.85 236.92,495.25 C238.40,496.65 239.88,498.02 241.35,499.36 C242.83,500.70 244.31,502.01 245.78,503.29 C247.26,504.56 248.73,505.81 250.21,507.02 C251.69,508.24 253.16,509.42 254.64,510.58 C256.12,511.73 257.59,512.85 259.07,513.95 C260.54,515.04 262.02,516.10 263.50,517.13 C264.97,518.16 266.45,519.17 267.93,520.14 C269.40,521.11 270.88,522.05 272.35,522.96 C273.83,523.87 275.31,524.75 276.78,525.59 C278.26,526.44 279.74,527.26 281.21,528.05 C282.69,528.84 284.16,529.59 285.64,530.32 C287.12,531.05 288.59,531.74 290.07,532.41 C291.55,533.07 293.02,533.71 294.50,534.31 C295.97,534.92 297.45,535.49 298.93,536.03 C300.40,536.58 301.88,537.09 303.36,537.57 C304.83,538.06 306.31,538.51 307.78,538.93 C309.26,539.35 310.74,539.74 312.21,540.10 C313.69,540.46 315.17,540.79 316.64,541.09 C318.12,541.39 319.59,541.65 321.07,541.89 C322.55,542.13 324.76,542.41 325.50,542.51" fill="none" stroke="#FAC090" stroke-width="2.3" stroke-linejoin="round" stroke-linecap="round" />
<path d="M64.20,480.11 C64.94,478.95 67.15,475.43 68.63,473.17 C70.11,470.90 71.58,468.67 73.06,466.51 C74.53,464.34 76.01,462.22 77.49,460.17 C78.96,458.12 80.44,456.12 81.92,454.20 C83.39,452.28 84.87,450.44 86.34,448.65 C87.82,446.86 89.30,445.14 90.77,443.47 C92.25,441.80 93.73,440.18 95.20,438.62 C96.68,437.05 98.15,435.54 99.63,434.09 C101.11,432.64 102.58,431.24 104.06,429.91 C105.54,428.59 107.01,427.32 108.49,426.13 C109.96,424.94 111.44,423.82 112.92,422.78 C114.39,421.74 115.87,420.77 117.35,419.89 C118.82,419.01 120.30,418.21 121.77,417.51 C123.25,416.80 124.73,416.18 126.20,415.66 C127.68,415.15 129.16,414.72 130.63,414.40 C132.11,414.09 133.58,413.87 135.06,413.75 C136.54,413.64 138.01,413.62 139.49,413.72 C140.97,413.81 142.44,414.00 143.92,414.30 C145.39,414.60 146.87,415.01 148.35,415.52 C149.82,416.03 151.30,416.65 152.78,417.35 C154.25,418.06 155.73,418.87 157.21,419.76 C158.68,420.65 160.16,421.63 161.63,422.69 C163.11,423.75 164.59,424.90 166.06,426.10 C167.54,427.30 169.02,428.59 170.49,429.91 C171.97,431.23 173.44,432.62 174.92,434.03 C176.40,435.44 177.87,436.90 179.35,438.36 C180.83,439.83 182.30,441.33 183.78,442.82 C185.25,444.30 186.73,445.80 188.21,447.29 C189.68,448.78 191.16,450.27 192.64,451.78 C194.11,453.29 195.59,454.81 197.06,456.36 C198.54,457.92 200.02,459.50 201.49,461.11 C202.97,462.72 204.45,464.37 205.92,466.03 C207.40,467.68 208.87,469.36 210.35,471.03 C211.83,472.70 213.30,474.38 214.78,476.03 C216.26,477.68 217.73,479.32 219.21,480.92 C220.68,482.53 222.16,484.10 223.64,485.64 C225.11,487.18 226.59,488.68 228.07,490.16 C229.54,491.63 231.02,493.06 232.49,494.47 C233.97,495.87 235.45,497.25 236.92,498.59 C238.40,499.93 239.88,501.23 241.35,502.51 C242.83,503.78 244.31,505.03 245.78,506.24 C247.26,507.45 248.73,508.64 250.21,509.79 C251.69,510.94 253.16,512.06 254.64,513.15 C256.12,514.24 257.59,515.30 259.07,516.33 C260.54,517.36 262.02,518.36 263.50,519.34 C264.97,520.31 266.45,521.25 267.93,522.16 C269.40,523.07 270.88,523.95 272.35,524.81 C273.83,525.66 275.31,526.48 276.78,527.28 C278.26,528.07 279.74,528.84 281.21,529.58 C282.69,530.31 284.16,531.02 285.64,531.70 C287.12,532.38 288.59,533.03 290.07,533.65 C291.55,534.27 293.02,534.86 294.50,535.42 C295.97,535.99 297.45,536.52 298.93,537.03 C300.40,537.54 301.88,538.01 303.36,538.46 C304.83,538.91 306.31,539.34 307.78,539.73 C309.26,540.12 310.74,540.49 312.21,540.83 C313.69,541.17 315.17,541.48 316.64,541.76 C318.12,542.04 319.59,542.30 321.07,542.52 C322.55,542.75 324.76,543.02 325.50,543.12" fill="none" stroke="#5F7530" stroke-width="2.3" stroke-linejoin="round" stroke-linecap="round" />
<path d="M64.20,480.39 C64.94,479.33 67.15,476.13 68.63,474.08 C70.11,472.02 71.58,470.01 73.06,468.06 C74.53,466.11 76.01,464.20 77.49,462.36 C78.96,460.51 80.44,458.72 81.92,457.00 C83.39,455.27 84.87,453.61 86.34,451.99 C87.82,450.38 89.30,448.83 90.77,447.33 C92.25,445.82 93.73,444.37 95.20,442.96 C96.68,441.56 98.15,440.20 99.63,438.89 C101.11,437.59 102.58,436.34 104.06,435.15 C105.54,433.96 107.01,432.83 108.49,431.77 C109.96,430.70 111.44,429.70 112.92,428.77 C114.39,427.84 115.87,426.97 117.35,426.19 C118.82,425.40 120.30,424.68 121.77,424.05 C123.25,423.42 124.73,422.87 126.20,422.41 C127.68,421.94 129.16,421.56 130.63,421.28 C132.11,421.00 133.58,420.80 135.06,420.70 C136.54,420.60 138.01,420.59 139.49,420.68 C140.97,420.77 142.44,420.95 143.92,421.24 C145.39,421.52 146.87,421.90 148.35,422.38 C149.82,422.86 151.30,423.44 152.78,424.10 C154.25,424.76 155.73,425.51 157.21,426.34 C158.68,427.17 160.16,428.09 161.63,429.08 C163.11,430.06 164.59,431.13 166.06,432.25 C167.54,433.37 169.02,434.57 170.49,435.80 C171.97,437.03 173.44,438.33 174.92,439.65 C176.40,440.96 177.87,442.33 179.35,443.70 C180.83,445.08 182.30,446.49 183.78,447.89 C185.25,449.29 186.73,450.70 188.21,452.11 C189.68,453.52 191.16,454.93 192.64,456.37 C194.11,457.80 195.59,459.25 197.06,460.73 C198.54,462.22 200.02,463.74 201.49,465.29 C202.97,466.84 204.45,468.43 205.92,470.03 C207.40,471.63 208.87,473.26 210.35,474.88 C211.83,476.49 213.30,478.13 214.78,479.73 C216.26,481.33 217.73,482.92 219.21,484.48 C220.68,486.03 222.16,487.56 223.64,489.04 C225.11,490.53 226.59,491.98 228.07,493.40 C229.54,494.82 231.02,496.20 232.49,497.55 C233.97,498.90 235.45,500.22 236.92,501.50 C238.40,502.79 239.88,504.04 241.35,505.26 C242.83,506.48 244.31,507.67 245.78,508.83 C247.26,509.98 248.73,511.11 250.21,512.20 C251.69,513.30 253.16,514.37 254.64,515.40 C256.12,516.44 257.59,517.44 259.07,518.42 C260.54,519.40 262.02,520.34 263.50,521.26 C264.97,522.18 266.45,523.07 267.93,523.93 C269.40,524.79 270.88,525.62 272.35,526.43 C273.83,527.23 275.31,528.01 276.78,528.75 C278.26,529.50 279.74,530.22 281.21,530.91 C282.69,531.60 284.16,532.27 285.64,532.90 C287.12,533.54 288.59,534.15 290.07,534.73 C291.55,535.31 293.02,535.87 294.50,536.40 C295.97,536.92 297.45,537.42 298.93,537.90 C300.40,538.37 301.88,538.82 303.36,539.24 C304.83,539.67 306.31,540.06 307.78,540.43 C309.26,540.80 310.74,541.15 312.21,541.47 C313.69,541.79 315.17,542.08 316.64,542.35 C318.12,542.61 319.59,542.86 321.07,543.08 C322.55,543.29 324.76,543.56 325.50,543.66" fill="none" stroke="#984807" stroke-width="2.3" stroke-linejoin="round" stroke-linecap="round" />
<path d="M64.20,480.61 C64.94,479.64 67.15,476.70 68.63,474.82 C70.11,472.94 71.58,471.11 73.06,469.33 C74.53,467.55 76.01,465.82 77.49,464.14 C78.96,462.47 80.44,460.84 81.92,459.27 C83.39,457.70 84.87,456.19 86.34,454.72 C87.82,453.25 89.30,451.84 90.77,450.47 C92.25,449.10 93.73,447.78 95.20,446.50 C96.68,445.22 98.15,443.99 99.63,442.81 C101.11,441.63 102.58,440.49 104.06,439.42 C105.54,438.34 107.01,437.32 108.49,436.36 C109.96,435.39 111.44,434.48 112.92,433.64 C114.39,432.80 115.87,432.02 117.35,431.31 C118.82,430.60 120.30,429.95 121.77,429.38 C123.25,428.82 124.73,428.31 126.20,427.90 C127.68,427.48 129.16,427.13 130.63,426.88 C132.11,426.62 133.58,426.45 135.06,426.36 C136.54,426.27 138.01,426.27 139.49,426.36 C140.97,426.44 142.44,426.62 143.92,426.89 C145.39,427.15 146.87,427.52 148.35,427.97 C149.82,428.42 151.30,428.96 152.78,429.59 C154.25,430.21 155.73,430.92 157.21,431.71 C158.68,432.49 160.16,433.35 161.63,434.28 C163.11,435.21 164.59,436.21 166.06,437.27 C167.54,438.32 169.02,439.44 170.49,440.60 C171.97,441.76 173.44,442.98 174.92,444.22 C176.40,445.46 177.87,446.75 179.35,448.05 C180.83,449.35 182.30,450.69 183.78,452.02 C185.25,453.35 186.73,454.69 188.21,456.03 C189.68,457.38 191.16,458.73 192.64,460.10 C194.11,461.48 195.59,462.86 197.06,464.29 C198.54,465.73 200.02,467.19 201.49,468.69 C202.97,470.19 204.45,471.74 205.92,473.29 C207.40,474.85 208.87,476.44 210.35,478.01 C211.83,479.59 213.30,481.18 214.78,482.74 C216.26,484.30 217.73,485.86 219.21,487.37 C220.68,488.88 222.16,490.37 223.64,491.81 C225.11,493.26 226.59,494.67 228.07,496.04 C229.54,497.42 231.02,498.76 232.49,500.06 C233.97,501.37 235.45,502.64 236.92,503.88 C238.40,505.12 239.88,506.33 241.35,507.50 C242.83,508.68 244.31,509.82 245.78,510.93 C247.26,512.04 248.73,513.12 250.21,514.17 C251.69,515.22 253.16,516.24 254.64,517.23 C256.12,518.23 257.59,519.19 259.07,520.12 C260.54,521.05 262.02,521.96 263.50,522.83 C264.97,523.71 266.45,524.55 267.93,525.37 C269.40,526.19 270.88,526.98 272.35,527.75 C273.83,528.51 275.31,529.25 276.78,529.95 C278.26,530.66 279.74,531.34 281.21,532.00 C282.69,532.66 284.16,533.28 285.64,533.89 C287.12,534.49 288.59,535.06 290.07,535.61 C291.55,536.16 293.02,536.69 294.50,537.19 C295.97,537.69 297.45,538.16 298.93,538.61 C300.40,539.06 301.88,539.48 303.36,539.88 C304.83,540.28 306.31,540.65 307.78,541.00 C309.26,541.36 310.74,541.68 312.21,541.99 C313.69,542.29 315.17,542.57 316.64,542.82 C318.12,543.08 319.59,543.31 321.07,543.53 C322.55,543.74 324.76,544.00 325.50,544.09" fill="none" stroke="#C3D69B" stroke-width="2.3" stroke-linejoin="round" stroke-linecap="round" />
<path d="M64.20,480.74 C64.94,479.82 67.15,477.02 68.63,475.24 C70.11,473.47 71.58,471.74 73.06,470.06 C74.53,468.38 76.01,466.76 77.49,465.18 C78.96,463.60 80.44,462.07 81.92,460.59 C83.39,459.11 84.87,457.68 86.34,456.30 C87.82,454.91 89.30,453.58 90.77,452.29 C92.25,451.00 93.73,449.75 95.20,448.55 C96.68,447.35 98.15,446.19 99.63,445.08 C101.11,443.97 102.58,442.90 104.06,441.89 C105.54,440.88 107.01,439.92 108.49,439.01 C109.96,438.11 111.44,437.26 112.92,436.47 C114.39,435.68 115.87,434.94 117.35,434.28 C118.82,433.61 120.30,433.01 121.77,432.47 C123.25,431.94 124.73,431.47 126.20,431.07 C127.68,430.68 129.16,430.36 130.63,430.12 C132.11,429.88 133.58,429.71 135.06,429.63 C136.54,429.55 138.01,429.55 139.49,429.64 C140.97,429.73 142.44,429.89 143.92,430.15 C145.39,430.42 146.87,430.77 148.35,431.20 C149.82,431.64 151.30,432.16 152.78,432.77 C154.25,433.37 155.73,434.06 157.21,434.81 C158.68,435.56 160.16,436.40 161.63,437.29 C163.11,438.18 164.59,439.15 166.06,440.17 C167.54,441.18 169.02,442.26 170.49,443.38 C171.97,444.50 173.44,445.67 174.92,446.87 C176.40,448.07 177.87,449.31 179.35,450.57 C180.83,451.83 182.30,453.12 183.78,454.41 C185.25,455.70 186.73,457.00 188.21,458.31 C189.68,459.62 191.16,460.92 192.64,462.26 C194.11,463.61 195.59,464.96 197.06,466.36 C198.54,467.75 200.02,469.19 201.49,470.66 C202.97,472.13 204.45,473.65 205.92,475.18 C207.40,476.71 208.87,478.28 210.35,479.83 C211.83,481.38 213.30,482.95 214.78,484.48 C216.26,486.02 217.73,487.56 219.21,489.04 C220.68,490.53 222.16,491.99 223.64,493.42 C225.11,494.84 226.59,496.22 228.07,497.57 C229.54,498.92 231.02,500.23 232.49,501.52 C233.97,502.80 235.45,504.04 236.92,505.26 C238.40,506.47 239.88,507.65 241.35,508.80 C242.83,509.95 244.31,511.06 245.78,512.15 C247.26,513.23 248.73,514.29 250.21,515.31 C251.69,516.34 253.16,517.33 254.64,518.30 C256.12,519.26 257.59,520.20 259.07,521.10 C260.54,522.01 262.02,522.89 263.50,523.74 C264.97,524.59 266.45,525.41 267.93,526.21 C269.40,527.00 270.88,527.77 272.35,528.51 C273.83,529.25 275.31,529.96 276.78,530.65 C278.26,531.34 279.74,532.00 281.21,532.63 C282.69,533.26 284.16,533.87 285.64,534.45 C287.12,535.04 288.59,535.59 290.07,536.12 C291.55,536.66 293.02,537.16 294.50,537.64 C295.97,538.13 297.45,538.58 298.93,539.02 C300.40,539.45 301.88,539.86 303.36,540.25 C304.83,540.63 306.31,541.00 307.78,541.34 C309.26,541.68 310.74,541.99 312.21,542.29 C313.69,542.58 315.17,542.85 316.64,543.10 C318.12,543.35 319.59,543.58 321.07,543.79 C322.55,543.99 324.76,544.25 325.50,544.34" fill="none" stroke="#B7DEE8" stroke-width="2.3" stroke-linejoin="round" stroke-linecap="round" />
<path d="M64.20,480.83 C64.94,479.95 67.15,477.26 68.63,475.56 C70.11,473.85 71.58,472.20 73.06,470.60 C74.53,468.99 76.01,467.44 77.49,465.93 C78.96,464.42 80.44,462.96 81.92,461.54 C83.39,460.13 84.87,458.77 86.34,457.44 C87.82,456.12 89.30,454.85 90.77,453.61 C92.25,452.38 93.73,451.19 95.20,450.04 C96.68,448.89 98.15,447.78 99.63,446.72 C101.11,445.67 102.58,444.65 104.06,443.69 C105.54,442.72 107.01,441.80 108.49,440.94 C109.96,440.08 111.44,439.27 112.92,438.52 C114.39,437.77 115.87,437.07 117.35,436.44 C118.82,435.80 120.30,435.22 121.77,434.72 C123.25,434.21 124.73,433.76 126.20,433.39 C127.68,433.01 129.16,432.71 130.63,432.48 C132.11,432.25 133.58,432.09 135.06,432.02 C136.54,431.94 138.01,431.94 139.49,432.03 C140.97,432.11 142.44,432.28 143.92,432.53 C145.39,432.79 146.87,433.13 148.35,433.55 C149.82,433.98 151.30,434.49 152.78,435.08 C154.25,435.66 155.73,436.33 157.21,437.07 C158.68,437.80 160.16,438.61 161.63,439.48 C163.11,440.35 164.59,441.29 166.06,442.28 C167.54,443.26 169.02,444.31 170.49,445.40 C171.97,446.49 173.44,447.63 174.92,448.80 C176.40,449.96 177.87,451.18 179.35,452.40 C180.83,453.63 182.30,454.89 183.78,456.14 C185.25,457.40 186.73,458.68 188.21,459.96 C189.68,461.24 191.16,462.52 192.64,463.84 C194.11,465.15 195.59,466.48 197.06,467.85 C198.54,469.23 200.02,470.64 201.49,472.09 C202.97,473.54 204.45,475.05 205.92,476.56 C207.40,478.06 208.87,479.61 210.35,481.15 C211.83,482.68 213.30,484.23 214.78,485.75 C216.26,487.27 217.73,488.79 219.21,490.26 C220.68,491.73 222.16,493.18 223.64,494.58 C225.11,495.99 226.59,497.35 228.07,498.68 C229.54,500.01 231.02,501.31 232.49,502.57 C233.97,503.83 235.45,505.06 236.92,506.26 C238.40,507.45 239.88,508.61 241.35,509.74 C242.83,510.87 244.31,511.97 245.78,513.04 C247.26,514.10 248.73,515.14 250.21,516.14 C251.69,517.15 253.16,518.12 254.64,519.07 C256.12,520.01 257.59,520.93 259.07,521.82 C260.54,522.71 262.02,523.57 263.50,524.40 C264.97,525.23 266.45,526.04 267.93,526.81 C269.40,527.59 270.88,528.34 272.35,529.07 C273.83,529.79 275.31,530.48 276.78,531.15 C278.26,531.83 279.74,532.47 281.21,533.09 C282.69,533.71 284.16,534.30 285.64,534.87 C287.12,535.44 288.59,535.98 290.07,536.50 C291.55,537.01 293.02,537.51 294.50,537.98 C295.97,538.45 297.45,538.89 298.93,539.32 C300.40,539.74 301.88,540.14 303.36,540.52 C304.83,540.89 306.31,541.25 307.78,541.58 C309.26,541.91 310.74,542.22 312.21,542.51 C313.69,542.79 315.17,543.06 316.64,543.30 C318.12,543.55 319.59,543.77 321.07,543.98 C322.55,544.18 324.76,544.43 325.50,544.52" fill="none" stroke="#FCD5B5" stroke-width="2.3" stroke-linejoin="round" stroke-linecap="round" />
<path d="M64.20,480.92 C64.94,480.08 67.15,477.49 68.63,475.86 C70.11,474.22 71.58,472.64 73.06,471.11 C74.53,469.57 76.01,468.09 77.49,466.65 C78.96,465.21 80.44,463.81 81.92,462.46 C83.39,461.11 84.87,459.81 86.34,458.54 C87.82,457.28 89.30,456.06 90.77,454.88 C92.25,453.70 93.73,452.56 95.20,451.47 C96.68,450.37 98.15,449.31 99.63,448.30 C101.11,447.29 102.58,446.33 104.06,445.41 C105.54,444.49 107.01,443.62 108.49,442.80 C109.96,441.98 111.44,441.20 112.92,440.49 C114.39,439.77 115.87,439.11 117.35,438.50 C118.82,437.90 120.30,437.35 121.77,436.87 C123.25,436.38 124.73,435.96 126.20,435.60 C127.68,435.25 129.16,434.95 130.63,434.74 C132.11,434.52 133.58,434.37 135.06,434.30 C136.54,434.23 138.01,434.23 139.49,434.32 C140.97,434.40 142.44,434.56 143.92,434.81 C145.39,435.06 146.87,435.39 148.35,435.81 C149.82,436.22 151.30,436.72 152.78,437.29 C154.25,437.86 155.73,438.52 157.21,439.23 C158.68,439.95 160.16,440.74 161.63,441.58 C163.11,442.42 164.59,443.34 166.06,444.30 C167.54,445.26 169.02,446.28 170.49,447.34 C171.97,448.39 173.44,449.50 174.92,450.64 C176.40,451.78 177.87,452.96 179.35,454.16 C180.83,455.35 182.30,456.58 183.78,457.81 C185.25,459.04 186.73,460.29 188.21,461.54 C189.68,462.80 191.16,464.05 192.64,465.34 C194.11,466.63 195.59,467.94 197.06,469.29 C198.54,470.64 200.02,472.03 201.49,473.46 C202.97,474.89 204.45,476.38 205.92,477.87 C207.40,479.36 208.87,480.89 210.35,482.41 C211.83,483.93 213.30,485.46 214.78,486.97 C216.26,488.47 217.73,489.97 219.21,491.43 C220.68,492.89 222.16,494.31 223.64,495.70 C225.11,497.09 226.59,498.43 228.07,499.75 C229.54,501.06 231.02,502.34 232.49,503.59 C233.97,504.83 235.45,506.04 236.92,507.22 C238.40,508.39 239.88,509.54 241.35,510.65 C242.83,511.76 244.31,512.84 245.78,513.88 C247.26,514.93 248.73,515.95 250.21,516.94 C251.69,517.92 253.16,518.88 254.64,519.81 C256.12,520.74 257.59,521.63 259.07,522.51 C260.54,523.38 262.02,524.22 263.50,525.03 C264.97,525.85 266.45,526.64 267.93,527.40 C269.40,528.16 270.88,528.89 272.35,529.60 C273.83,530.30 275.31,530.98 276.78,531.64 C278.26,532.29 279.74,532.92 281.21,533.53 C282.69,534.13 284.16,534.71 285.64,535.26 C287.12,535.82 288.59,536.35 290.07,536.85 C291.55,537.36 293.02,537.84 294.50,538.30 C295.97,538.76 297.45,539.19 298.93,539.60 C300.40,540.01 301.88,540.40 303.36,540.77 C304.83,541.14 306.31,541.48 307.78,541.81 C309.26,542.13 310.74,542.43 312.21,542.71 C313.69,543.00 315.17,543.26 316.64,543.50 C318.12,543.74 319.59,543.96 321.07,544.16 C322.55,544.36 324.76,544.61 325.50,544.70" fill="none" stroke="#95B3D7" stroke-width="2.3" stroke-linejoin="round" stroke-linecap="round" />
<path d="M64.20,480.99 C64.94,480.17 67.15,477.66 68.63,476.08 C70.11,474.49 71.58,472.97 73.06,471.49 C74.53,470.00 76.01,468.57 77.49,467.18 C78.96,465.79 80.44,464.44 81.92,463.14 C83.39,461.83 84.87,460.58 86.34,459.36 C87.82,458.14 89.30,456.96 90.77,455.82 C92.25,454.68 93.73,453.58 95.20,452.52 C96.68,451.47 98.15,450.45 99.63,449.47 C101.11,448.50 102.58,447.56 104.06,446.68 C105.54,445.80 107.01,444.95 108.49,444.16 C109.96,443.37 111.44,442.63 112.92,441.94 C114.39,441.25 115.87,440.61 117.35,440.03 C118.82,439.45 120.30,438.92 121.77,438.46 C123.25,437.99 124.73,437.58 126.20,437.24 C127.68,436.90 129.16,436.61 130.63,436.41 C132.11,436.20 133.58,436.05 135.06,435.99 C136.54,435.92 138.01,435.92 139.49,436.01 C140.97,436.09 142.44,436.25 143.92,436.50 C145.39,436.74 146.87,437.07 148.35,437.47 C149.82,437.88 151.30,438.37 152.78,438.93 C154.25,439.49 155.73,440.13 157.21,440.83 C158.68,441.53 160.16,442.30 161.63,443.13 C163.11,443.96 164.59,444.85 166.06,445.79 C167.54,446.73 169.02,447.73 170.49,448.77 C171.97,449.80 173.44,450.89 174.92,452.01 C176.40,453.12 177.87,454.28 179.35,455.45 C180.83,456.63 182.30,457.83 183.78,459.04 C185.25,460.25 186.73,461.48 188.21,462.71 C189.68,463.95 191.16,465.18 192.64,466.46 C194.11,467.73 195.59,469.02 197.06,470.35 C198.54,471.69 200.02,473.06 201.49,474.48 C202.97,475.89 204.45,477.37 205.92,478.84 C207.40,480.32 208.87,481.84 210.35,483.34 C211.83,484.85 213.30,486.37 214.78,487.86 C216.26,489.36 217.73,490.85 219.21,492.29 C220.68,493.74 222.16,495.15 223.64,496.53 C225.11,497.90 226.59,499.24 228.07,500.54 C229.54,501.84 231.02,503.10 232.49,504.33 C233.97,505.57 235.45,506.76 236.92,507.92 C238.40,509.09 239.88,510.22 241.35,511.31 C242.83,512.41 244.31,513.48 245.78,514.51 C247.26,515.55 248.73,516.55 250.21,517.52 C251.69,518.50 253.16,519.44 254.64,520.35 C256.12,521.27 257.59,522.15 259.07,523.01 C260.54,523.87 262.02,524.70 263.50,525.50 C264.97,526.30 266.45,527.08 267.93,527.83 C269.40,528.57 270.88,529.30 272.35,529.99 C273.83,530.69 275.31,531.35 276.78,532.00 C278.26,532.64 279.74,533.26 281.21,533.85 C282.69,534.44 284.16,535.01 285.64,535.56 C287.12,536.10 288.59,536.62 290.07,537.12 C291.55,537.61 293.02,538.08 294.50,538.53 C295.97,538.98 297.45,539.41 298.93,539.81 C300.40,540.22 301.88,540.60 303.36,540.96 C304.83,541.32 306.31,541.66 307.78,541.98 C309.26,542.30 310.74,542.59 312.21,542.87 C313.69,543.15 315.17,543.40 316.64,543.64 C318.12,543.88 319.59,544.09 321.07,544.29 C322.55,544.49 324.76,544.74 325.50,544.83" fill="none" stroke="#B65708" stroke-width="2.3" stroke-linejoin="round" stroke-linecap="round" />
<path d="M64.20,481.05 C64.94,480.26 67.15,477.82 68.63,476.28 C70.11,474.75 71.58,473.28 73.06,471.84 C74.53,470.41 76.01,469.02 77.49,467.68 C78.96,466.34 80.44,465.04 81.92,463.78 C83.39,462.52 84.87,461.30 86.34,460.12 C87.82,458.94 89.30,457.80 90.77,456.70 C92.25,455.60 93.73,454.54 95.20,453.52 C96.68,452.49 98.15,451.51 99.63,450.57 C101.11,449.63 102.58,448.73 104.06,447.88 C105.54,447.02 107.01,446.21 108.49,445.45 C109.96,444.69 111.44,443.97 112.92,443.31 C114.39,442.65 115.87,442.03 117.35,441.47 C118.82,440.91 120.30,440.40 121.77,439.95 C123.25,439.50 124.73,439.11 126.20,438.78 C127.68,438.45 129.16,438.18 130.63,437.98 C132.11,437.78 133.58,437.64 135.06,437.58 C136.54,437.51 138.01,437.52 139.49,437.60 C140.97,437.69 142.44,437.84 143.92,438.08 C145.39,438.32 146.87,438.64 148.35,439.04 C149.82,439.44 151.30,439.92 152.78,440.47 C154.25,441.02 155.73,441.65 157.21,442.34 C158.68,443.02 160.16,443.78 161.63,444.59 C163.11,445.40 164.59,446.28 166.06,447.20 C167.54,448.12 169.02,449.10 170.49,450.11 C171.97,451.13 173.44,452.20 174.92,453.29 C176.40,454.38 177.87,455.52 179.35,456.67 C180.83,457.82 182.30,459.01 183.78,460.20 C185.25,461.39 186.73,462.60 188.21,463.81 C189.68,465.03 191.16,466.25 192.64,467.51 C194.11,468.76 195.59,470.03 197.06,471.35 C198.54,472.67 200.02,474.03 201.49,475.43 C202.97,476.84 204.45,478.29 205.92,479.76 C207.40,481.22 208.87,482.73 210.35,484.22 C211.83,485.72 213.30,487.23 214.78,488.71 C216.26,490.19 217.73,491.67 219.21,493.10 C220.68,494.54 222.16,495.94 223.64,497.30 C225.11,498.66 226.59,499.99 228.07,501.28 C229.54,502.57 231.02,503.82 232.49,505.04 C233.97,506.26 235.45,507.44 236.92,508.59 C238.40,509.74 239.88,510.86 241.35,511.94 C242.83,513.03 244.31,514.08 245.78,515.10 C247.26,516.12 248.73,517.11 250.21,518.08 C251.69,519.04 253.16,519.97 254.64,520.87 C256.12,521.77 257.59,522.64 259.07,523.49 C260.54,524.33 262.02,525.15 263.50,525.94 C264.97,526.73 266.45,527.49 267.93,528.23 C269.40,528.97 270.88,529.68 272.35,530.36 C273.83,531.04 275.31,531.70 276.78,532.33 C278.26,532.97 279.74,533.57 281.21,534.16 C282.69,534.74 284.16,535.30 285.64,535.83 C287.12,536.37 288.59,536.88 290.07,537.36 C291.55,537.85 293.02,538.31 294.50,538.76 C295.97,539.20 297.45,539.62 298.93,540.01 C300.40,540.41 301.88,540.78 303.36,541.14 C304.83,541.49 306.31,541.83 307.78,542.14 C309.26,542.45 310.74,542.74 312.21,543.02 C313.69,543.29 315.17,543.54 316.64,543.77 C318.12,544.01 319.59,544.22 321.07,544.42 C322.55,544.61 324.76,544.86 325.50,544.95" fill="none" stroke="#8064A2" stroke-width="2.3" stroke-linejoin="round" stroke-linecap="round" />
<path d="M64.20,481.10 C64.94,480.33 67.15,477.95 68.63,476.45 C70.11,474.96 71.58,473.52 73.06,472.13 C74.53,470.74 76.01,469.39 77.49,468.09 C78.96,466.78 80.44,465.52 81.92,464.30 C83.39,463.07 84.87,461.89 86.34,460.74 C87.82,459.60 89.30,458.49 90.77,457.42 C92.25,456.35 93.73,455.32 95.20,454.32 C96.68,453.33 98.15,452.38 99.63,451.46 C101.11,450.55 102.58,449.68 104.06,448.85 C105.54,448.02 107.01,447.24 108.49,446.50 C109.96,445.76 111.44,445.07 112.92,444.42 C114.39,443.78 115.87,443.18 117.35,442.64 C118.82,442.10 120.30,441.60 121.77,441.17 C123.25,440.73 124.73,440.35 126.20,440.03 C127.68,439.71 129.16,439.45 130.63,439.25 C132.11,439.06 133.58,438.93 135.06,438.87 C136.54,438.81 138.01,438.81 139.49,438.90 C140.97,438.98 142.44,439.13 143.92,439.37 C145.39,439.61 146.87,439.92 148.35,440.31 C149.82,440.71 151.30,441.18 152.78,441.72 C154.25,442.26 155.73,442.88 157.21,443.56 C158.68,444.23 160.16,444.98 161.63,445.78 C163.11,446.58 164.59,447.44 166.06,448.34 C167.54,449.25 169.02,450.21 170.49,451.21 C171.97,452.21 173.44,453.26 174.92,454.33 C176.40,455.41 177.87,456.53 179.35,457.66 C180.83,458.80 182.30,459.97 183.78,461.14 C185.25,462.32 186.73,463.51 188.21,464.71 C189.68,465.91 191.16,467.12 192.64,468.36 C194.11,469.60 195.59,470.85 197.06,472.16 C198.54,473.47 200.02,474.82 201.49,476.21 C202.97,477.60 204.45,479.05 205.92,480.50 C207.40,481.96 208.87,483.46 210.35,484.94 C211.83,486.42 213.30,487.93 214.78,489.40 C216.26,490.87 217.73,492.34 219.21,493.76 C220.68,495.19 222.16,496.58 223.64,497.93 C225.11,499.29 226.59,500.60 228.07,501.88 C229.54,503.16 231.02,504.40 232.49,505.61 C233.97,506.82 235.45,507.99 236.92,509.13 C238.40,510.27 239.88,511.38 241.35,512.46 C242.83,513.53 244.31,514.57 245.78,515.58 C247.26,516.59 248.73,517.57 250.21,518.52 C251.69,519.47 253.16,520.39 254.64,521.29 C256.12,522.18 257.59,523.04 259.07,523.88 C260.54,524.71 262.02,525.52 263.50,526.30 C264.97,527.08 266.45,527.83 267.93,528.56 C269.40,529.29 270.88,529.99 272.35,530.66 C273.83,531.34 275.31,531.98 276.78,532.61 C278.26,533.23 279.74,533.83 281.21,534.40 C282.69,534.98 284.16,535.53 285.64,536.06 C287.12,536.58 288.59,537.08 290.07,537.56 C291.55,538.04 293.02,538.50 294.50,538.94 C295.97,539.37 297.45,539.78 298.93,540.17 C300.40,540.57 301.88,540.93 303.36,541.28 C304.83,541.63 306.31,541.96 307.78,542.27 C309.26,542.58 310.74,542.86 312.21,543.13 C313.69,543.40 315.17,543.65 316.64,543.88 C318.12,544.11 319.59,544.33 321.07,544.52 C322.55,544.71 324.76,544.96 325.50,545.05" fill="none" stroke="#7F7F7F" stroke-width="2.3" stroke-linejoin="round" stroke-linecap="round" />
<path d="M64.20,481.13 C64.94,480.37 67.15,478.02 68.63,476.54 C70.11,475.07 71.58,473.66 73.06,472.29 C74.53,470.91 76.01,469.59 77.49,468.31 C78.96,467.02 80.44,465.78 81.92,464.57 C83.39,463.37 84.87,462.21 86.34,461.08 C87.82,459.95 89.30,458.86 90.77,457.80 C92.25,456.75 93.73,455.74 95.20,454.76 C96.68,453.78 98.15,452.84 99.63,451.94 C101.11,451.05 102.58,450.19 104.06,449.37 C105.54,448.56 107.01,447.79 108.49,447.06 C109.96,446.34 111.44,445.65 112.92,445.02 C114.39,444.39 115.87,443.80 117.35,443.27 C118.82,442.74 120.30,442.25 121.77,441.82 C123.25,441.40 124.73,441.02 126.20,440.71 C127.68,440.39 129.16,440.13 130.63,439.94 C132.11,439.75 133.58,439.62 135.06,439.56 C136.54,439.50 138.01,439.51 139.49,439.59 C140.97,439.68 142.44,439.83 143.92,440.06 C145.39,440.30 146.87,440.61 148.35,441.00 C149.82,441.39 151.30,441.86 152.78,442.40 C154.25,442.93 155.73,443.55 157.21,444.22 C158.68,444.89 160.16,445.63 161.63,446.42 C163.11,447.21 164.59,448.06 166.06,448.96 C167.54,449.85 169.02,450.81 170.49,451.80 C171.97,452.79 173.44,453.83 174.92,454.89 C176.40,455.96 177.87,457.07 179.35,458.20 C180.83,459.32 182.30,460.48 183.78,461.65 C185.25,462.82 186.73,464.00 188.21,465.19 C189.68,466.39 191.16,467.58 192.64,468.82 C194.11,470.05 195.59,471.30 197.06,472.60 C198.54,473.90 200.02,475.24 201.49,476.63 C202.97,478.01 204.45,479.46 205.92,480.90 C207.40,482.35 208.87,483.85 210.35,485.32 C211.83,486.80 213.30,488.30 214.78,489.77 C216.26,491.23 217.73,492.70 219.21,494.12 C220.68,495.54 222.16,496.93 223.64,498.27 C225.11,499.62 226.59,500.93 228.07,502.21 C229.54,503.48 231.02,504.72 232.49,505.92 C233.97,507.12 235.45,508.29 236.92,509.43 C238.40,510.56 239.88,511.66 241.35,512.73 C242.83,513.80 244.31,514.84 245.78,515.84 C247.26,516.85 248.73,517.82 250.21,518.77 C251.69,519.71 253.16,520.63 254.64,521.51 C256.12,522.40 257.59,523.26 259.07,524.09 C260.54,524.92 262.02,525.72 263.50,526.49 C264.97,527.27 266.45,528.02 267.93,528.74 C269.40,529.46 270.88,530.15 272.35,530.82 C273.83,531.49 275.31,532.14 276.78,532.76 C278.26,533.37 279.74,533.97 281.21,534.54 C282.69,535.11 284.16,535.65 285.64,536.18 C287.12,536.70 288.59,537.20 290.07,537.67 C291.55,538.15 293.02,538.60 294.50,539.03 C295.97,539.46 297.45,539.87 298.93,540.26 C300.40,540.65 301.88,541.02 303.36,541.36 C304.83,541.71 306.31,542.03 307.78,542.34 C309.26,542.65 310.74,542.93 312.21,543.20 C313.69,543.46 315.17,543.71 316.64,543.94 C318.12,544.17 319.59,544.38 321.07,544.57 C322.55,544.77 324.76,545.01 325.50,545.10" fill="none" stroke="#604A7B" stroke-width="2.3" stroke-linejoin="round" stroke-linecap="round" />
<path d="M64.20,481.16 C64.94,480.41 67.15,478.10 68.63,476.65 C70.11,475.20 71.58,473.81 73.06,472.46 C74.53,471.12 76.01,469.82 77.49,468.56 C78.96,467.30 80.44,466.08 81.92,464.89 C83.39,463.71 84.87,462.57 86.34,461.46 C87.82,460.35 89.30,459.28 90.77,458.25 C92.25,457.21 93.73,456.21 95.20,455.26 C96.68,454.30 98.15,453.37 99.63,452.49 C101.11,451.61 102.58,450.77 104.06,449.97 C105.54,449.18 107.01,448.42 108.49,447.71 C109.96,446.99 111.44,446.32 112.92,445.71 C114.39,445.09 115.87,444.51 117.35,443.99 C118.82,443.47 120.30,442.99 121.77,442.57 C123.25,442.15 124.73,441.78 126.20,441.48 C127.68,441.17 129.16,440.91 130.63,440.73 C132.11,440.54 133.58,440.41 135.06,440.36 C136.54,440.30 138.01,440.30 139.49,440.39 C140.97,440.47 142.44,440.62 143.92,440.86 C145.39,441.09 146.87,441.40 148.35,441.78 C149.82,442.17 151.30,442.64 152.78,443.17 C154.25,443.70 155.73,444.31 157.21,444.97 C158.68,445.63 160.16,446.36 161.63,447.15 C163.11,447.93 164.59,448.77 166.06,449.66 C167.54,450.55 169.02,451.49 170.49,452.47 C171.97,453.45 173.44,454.48 174.92,455.54 C176.40,456.59 177.87,457.69 179.35,458.81 C180.83,459.92 182.30,461.07 183.78,462.23 C185.25,463.39 186.73,464.56 188.21,465.74 C189.68,466.93 191.16,468.11 192.64,469.34 C194.11,470.57 195.59,471.81 197.06,473.10 C198.54,474.39 200.02,475.73 201.49,477.11 C202.97,478.48 204.45,479.92 205.92,481.36 C207.40,482.81 208.87,484.29 210.35,485.76 C211.83,487.23 213.30,488.73 214.78,490.19 C216.26,491.65 217.73,493.11 219.21,494.53 C220.68,495.94 222.16,497.32 223.64,498.66 C225.11,500.00 226.59,501.31 228.07,502.58 C229.54,503.84 231.02,505.07 232.49,506.27 C233.97,507.47 235.45,508.63 236.92,509.76 C238.40,510.89 239.88,511.98 241.35,513.04 C242.83,514.11 244.31,515.14 245.78,516.14 C247.26,517.14 248.73,518.10 250.21,519.04 C251.69,519.98 253.16,520.89 254.64,521.77 C256.12,522.65 257.59,523.50 259.07,524.32 C260.54,525.15 262.02,525.94 263.50,526.71 C264.97,527.48 266.45,528.22 267.93,528.94 C269.40,529.66 270.88,530.34 272.35,531.01 C273.83,531.67 275.31,532.31 276.78,532.92 C278.26,533.54 279.74,534.13 281.21,534.69 C282.69,535.26 284.16,535.80 285.64,536.31 C287.12,536.83 288.59,537.32 290.07,537.80 C291.55,538.27 293.02,538.72 294.50,539.14 C295.97,539.57 297.45,539.98 298.93,540.36 C300.40,540.75 301.88,541.11 303.36,541.45 C304.83,541.79 306.31,542.12 307.78,542.42 C309.26,542.72 310.74,543.01 312.21,543.27 C313.69,543.54 315.17,543.78 316.64,544.01 C318.12,544.24 319.59,544.45 321.07,544.64 C322.55,544.83 324.76,545.08 325.50,545.16" fill="none" stroke="#8C8C8C" stroke-width="2.3" stroke-linejoin="round" stroke-linecap="round" />
<path d="M64.20,481.19 C64.94,480.45 67.15,478.18 68.63,476.75 C70.11,475.33 71.58,473.97 73.06,472.64 C74.53,471.32 76.01,470.05 77.49,468.81 C78.96,467.57 80.44,466.37 81.92,465.21 C83.39,464.05 84.87,462.93 86.34,461.84 C87.82,460.75 89.30,459.70 90.77,458.69 C92.25,457.67 93.73,456.69 95.20,455.75 C96.68,454.81 98.15,453.91 99.63,453.04 C101.11,452.18 102.58,451.35 104.06,450.57 C105.54,449.79 107.01,449.05 108.49,448.35 C109.96,447.65 111.44,447.00 112.92,446.39 C114.39,445.78 115.87,445.22 117.35,444.71 C118.82,444.20 120.30,443.73 121.77,443.32 C123.25,442.91 124.73,442.55 126.20,442.25 C127.68,441.95 129.16,441.70 130.63,441.51 C132.11,441.33 133.58,441.20 135.06,441.15 C136.54,441.09 138.01,441.10 139.49,441.18 C140.97,441.27 142.44,441.42 143.92,441.65 C145.39,441.88 146.87,442.19 148.35,442.57 C149.82,442.95 151.30,443.41 152.78,443.94 C154.25,444.47 155.73,445.07 157.21,445.72 C158.68,446.38 160.16,447.10 161.63,447.88 C163.11,448.65 164.59,449.49 166.06,450.36 C167.54,451.24 169.02,452.18 170.49,453.14 C171.97,454.11 173.44,455.13 174.92,456.18 C176.40,457.22 177.87,458.31 179.35,459.42 C180.83,460.52 182.30,461.66 183.78,462.81 C185.25,463.96 186.73,465.12 188.21,466.29 C189.68,467.47 191.16,468.65 192.64,469.86 C194.11,471.08 195.59,472.31 197.06,473.60 C198.54,474.89 200.02,476.21 201.49,477.58 C202.97,478.95 204.45,480.38 205.92,481.82 C207.40,483.26 208.87,484.74 210.35,486.20 C211.83,487.67 213.30,489.16 214.78,490.61 C216.26,492.07 217.73,493.53 219.21,494.93 C220.68,496.34 222.16,497.72 223.64,499.05 C225.11,500.39 226.59,501.68 228.07,502.95 C229.54,504.21 231.02,505.43 232.49,506.62 C233.97,507.82 235.45,508.97 236.92,510.09 C238.40,511.22 239.88,512.30 241.35,513.36 C242.83,514.42 244.31,515.44 245.78,516.43 C247.26,517.43 248.73,518.39 250.21,519.32 C251.69,520.25 253.16,521.15 254.64,522.03 C256.12,522.90 257.59,523.75 259.07,524.56 C260.54,525.38 262.02,526.17 263.50,526.93 C264.97,527.70 266.45,528.43 267.93,529.14 C269.40,529.85 270.88,530.54 272.35,531.19 C273.83,531.85 275.31,532.48 276.78,533.09 C278.26,533.70 279.74,534.28 281.21,534.84 C282.69,535.40 284.16,535.94 285.64,536.45 C287.12,536.96 288.59,537.45 290.07,537.92 C291.55,538.39 293.02,538.83 294.50,539.26 C295.97,539.68 297.45,540.08 298.93,540.46 C300.40,540.84 301.88,541.20 303.36,541.54 C304.83,541.88 306.31,542.20 307.78,542.50 C309.26,542.80 310.74,543.08 312.21,543.34 C313.69,543.61 315.17,543.85 316.64,544.08 C318.12,544.30 319.59,544.51 321.07,544.70 C322.55,544.89 324.76,545.14 325.50,545.22" fill="none" stroke="#5F4B7A" stroke-width="2.3" stroke-linejoin="round" stroke-linecap="round" />
<text transform="translate(51.40,326.18) scale(1,1.2)" font-size="14.0" text-anchor="end" fill="#595959">500</text>
<text transform="translate(51.40,374.73) scale(1,1.2)" font-size="14.0" text-anchor="end" fill="#595959">400</text>
<text transform="translate(51.40,423.28) scale(1,1.2)" font-size="14.0" text-anchor="end" fill="#595959">300</text>
<text transform="translate(51.40,471.83) scale(1,1.2)" font-size="14.0" text-anchor="end" fill="#595959">200</text>
<text transform="translate(51.40,520.38) scale(1,1.2)" font-size="14.0" text-anchor="end" fill="#595959">100</text>
<text transform="translate(51.40,568.93) scale(1,1.2)" font-size="14.0" text-anchor="end" fill="#595959">0</text>
<text transform="translate(64.00,586.08) scale(1,1.2)" font-size="14.0" text-anchor="middle" fill="#595959">560</text>
<text transform="translate(138.50,586.08) scale(1,1.2)" font-size="14.0" text-anchor="middle" fill="#595959">600</text>
<text transform="translate(213.30,586.08) scale(1,1.2)" font-size="14.0" text-anchor="middle" fill="#595959">640</text>
<text transform="translate(288.20,586.08) scale(1,1.2)" font-size="14.0" text-anchor="middle" fill="#595959">680</text>
<text x="193.5" y="606.1" font-size="14.6" text-anchor="middle" fill="#595959" >Wavelength  (nm)</text>
<text x="22.8" y="444" font-size="15.6" text-anchor="middle" fill="#595959" transform="rotate(-90 22.8 444)">F I (a. u.)</text>
<text x="174.4" y="334.9" font-size="20" text-anchor="start" fill="#000" >c</text>
<line x1="216.3" y1="343.3" x2="216.3" y2="379.3" stroke="#4F81BD" stroke-width="1.5"/>
<path d="M211.70000000000002,378.3 L216.3,387.8 L220.9,378.3 Z" fill="#4F81BD"/>
<line x1="409.6" y1="341.5" x2="409.6" y2="518.6" stroke="#1a1a1a" stroke-width="1.3"/>
<line x1="409.6" y1="429.2" x2="685" y2="429.2" stroke="#1a1a1a" stroke-width="1.3"/>
<path d="M411.30,431.60 C411.83,431.00 413.23,428.88 414.50,428.00 C415.77,427.12 417.08,426.12 418.90,426.30 C420.72,426.48 423.22,427.70 425.40,429.10 C427.58,430.50 429.53,431.85 432.00,434.70 C434.47,437.55 437.75,443.03 440.20,446.20 C442.65,449.37 444.80,452.18 446.70,453.70 C448.60,455.22 449.68,455.73 451.60,455.30 C453.52,454.87 456.02,453.72 458.20,451.10 C460.38,448.48 462.52,443.97 464.70,439.60 C466.88,435.23 469.12,429.53 471.30,424.90 C473.48,420.27 475.63,415.88 477.80,411.80 C479.97,407.72 482.12,403.13 484.30,400.40 C486.48,397.67 488.22,396.95 490.90,395.40 C493.58,393.85 497.53,391.23 500.40,391.10 C503.27,390.97 505.47,392.45 508.10,394.60 C510.73,396.75 513.50,400.40 516.20,404.00 C518.90,407.60 522.05,413.58 524.30,416.20 C526.55,418.82 527.45,418.93 529.70,419.70 C531.95,420.47 535.10,420.35 537.80,420.80 C540.50,421.25 542.75,421.82 545.90,422.40 C549.05,422.98 553.55,424.22 556.70,424.30 C559.85,424.38 561.65,422.68 564.80,422.90 C567.95,423.12 572.00,425.15 575.60,425.60 C579.20,426.05 583.25,425.68 586.40,425.60 C589.55,425.52 591.35,424.55 594.50,425.10 C597.65,425.65 602.15,428.37 605.30,428.90 C608.45,429.43 610.70,428.17 613.40,428.30 C616.10,428.43 618.80,429.83 621.50,429.70 C624.20,429.57 626.90,428.18 629.60,427.50 C632.30,426.82 634.55,425.68 637.70,425.60 C640.85,425.52 645.35,427.45 648.50,427.00 C651.65,426.55 653.45,424.25 656.60,422.90 C659.75,421.55 664.25,419.43 667.40,418.90 C670.55,418.37 672.57,419.12 675.50,419.70 C678.43,420.28 683.42,421.95 685.00,422.40" fill="none" stroke="#4F81BD" stroke-width="2.2" stroke-linejoin="round" stroke-linecap="round" />
<path d="M413.50,518.60 C413.75,515.50 414.42,506.77 415.00,500.00 C415.58,493.23 416.25,485.50 417.00,478.00 C417.75,470.50 418.58,461.33 419.50,455.00 C420.42,448.67 421.58,443.75 422.50,440.00 C423.42,436.25 424.17,434.12 425.00,432.50 C425.83,430.88 426.33,428.57 427.50,430.30 C428.67,432.03 430.17,436.17 432.00,442.90 C433.83,449.63 436.05,461.70 438.50,470.70 C440.95,479.70 444.40,491.07 446.70,496.90 C449.00,502.73 450.38,505.70 452.30,505.70 C454.22,505.70 456.13,503.28 458.20,496.90 C460.27,490.52 462.52,478.32 464.70,467.40 C466.88,456.48 469.12,442.30 471.30,431.40 C473.48,420.50 475.63,410.45 477.80,402.00 C479.97,393.55 482.12,386.15 484.30,380.70 C486.48,375.25 488.43,371.87 490.90,369.30 C493.37,366.73 496.68,365.13 499.10,365.30 C501.52,365.47 503.22,367.00 505.40,370.30 C507.58,373.60 509.95,379.48 512.20,385.10 C514.45,390.72 516.65,398.37 518.90,404.00 C521.15,409.63 523.67,414.75 525.70,418.90 C527.73,423.05 529.53,426.88 531.10,428.90 C532.67,430.92 533.08,430.65 535.10,431.00 C537.12,431.35 540.05,430.45 543.20,431.00 C546.35,431.55 550.40,433.48 554.00,434.30 C557.60,435.12 561.20,435.55 564.80,435.90 C568.40,436.25 572.00,436.32 575.60,436.40 C579.20,436.48 582.80,436.30 586.40,436.40 C590.00,436.50 593.60,436.63 597.20,437.00 C600.80,437.37 605.30,438.47 608.00,438.60 C610.70,438.73 611.15,438.38 613.40,437.80 C615.65,437.22 618.80,435.42 621.50,435.10 C624.20,434.78 626.90,435.45 629.60,435.90 C632.30,436.35 634.55,437.35 637.70,437.80 C640.85,438.25 645.35,438.92 648.50,438.60 C651.65,438.28 653.45,436.93 656.60,435.90 C659.75,434.87 664.25,432.98 667.40,432.40 C670.55,431.82 672.57,431.95 675.50,432.40 C678.43,432.85 683.42,434.65 685.00,435.10" fill="none" stroke="#C0504D" stroke-width="2.2" stroke-linejoin="round" stroke-linecap="round" />
<text transform="translate(397.20,346.28) scale(1,1.2)" font-size="14.0" text-anchor="end" fill="#595959">2</text>
<text transform="translate(397.20,381.58) scale(1,1.2)" font-size="14.0" text-anchor="end" fill="#595959">1.2</text>
<text transform="translate(397.20,416.88) scale(1,1.2)" font-size="14.0" text-anchor="end" fill="#595959">0.4</text>
<text transform="translate(397.20,452.18) scale(1,1.2)" font-size="14.0" text-anchor="end" fill="#595959">-0.4</text>
<text transform="translate(397.20,487.48) scale(1,1.2)" font-size="14.0" text-anchor="end" fill="#595959">-1.2</text>
<text transform="translate(397.20,522.78) scale(1,1.2)" font-size="14.0" text-anchor="end" fill="#595959">-2</text>
<text transform="translate(409.60,451.18) scale(1,1.2)" font-size="14.0" text-anchor="middle" fill="#595959">220</text>
<text transform="translate(486.00,451.18) scale(1,1.2)" font-size="14.0" text-anchor="middle" fill="#595959">270</text>
<text transform="translate(562.20,451.18) scale(1,1.2)" font-size="14.0" text-anchor="middle" fill="#595959">320</text>
<text transform="translate(638.00,451.18) scale(1,1.2)" font-size="14.0" text-anchor="middle" fill="#595959">370</text>
<text x="544.8" y="538.3" font-size="14.6" text-anchor="middle" fill="#595959" >Wavelength  (nm)</text>
<text x="367.2" y="428.6" font-size="14.6" text-anchor="middle" fill="#595959" transform="rotate(-90 367.2 428.6)">CD  (mdeg)</text>
<text x="415.0" y="330.4" font-size="17.5" text-anchor="start" fill="#000" >d</text>
<line x1="444.9" y1="319.7" x2="475.5" y2="319.7" stroke="#4F81BD" stroke-width="2.2"/>
<text transform="translate(479.00,324.90) scale(1,1.12)" font-size="14" text-anchor="start" fill="#595959">CT-DNA</text>
<line x1="550.6" y1="319.7" x2="583" y2="319.7" stroke="#C0504D" stroke-width="2.2"/>
<text transform="translate(586.40,324.90) scale(1,1.12)" font-size="14" text-anchor="start" fill="#595959">31 + CT-DNA</text>
</svg>
</body></html>
